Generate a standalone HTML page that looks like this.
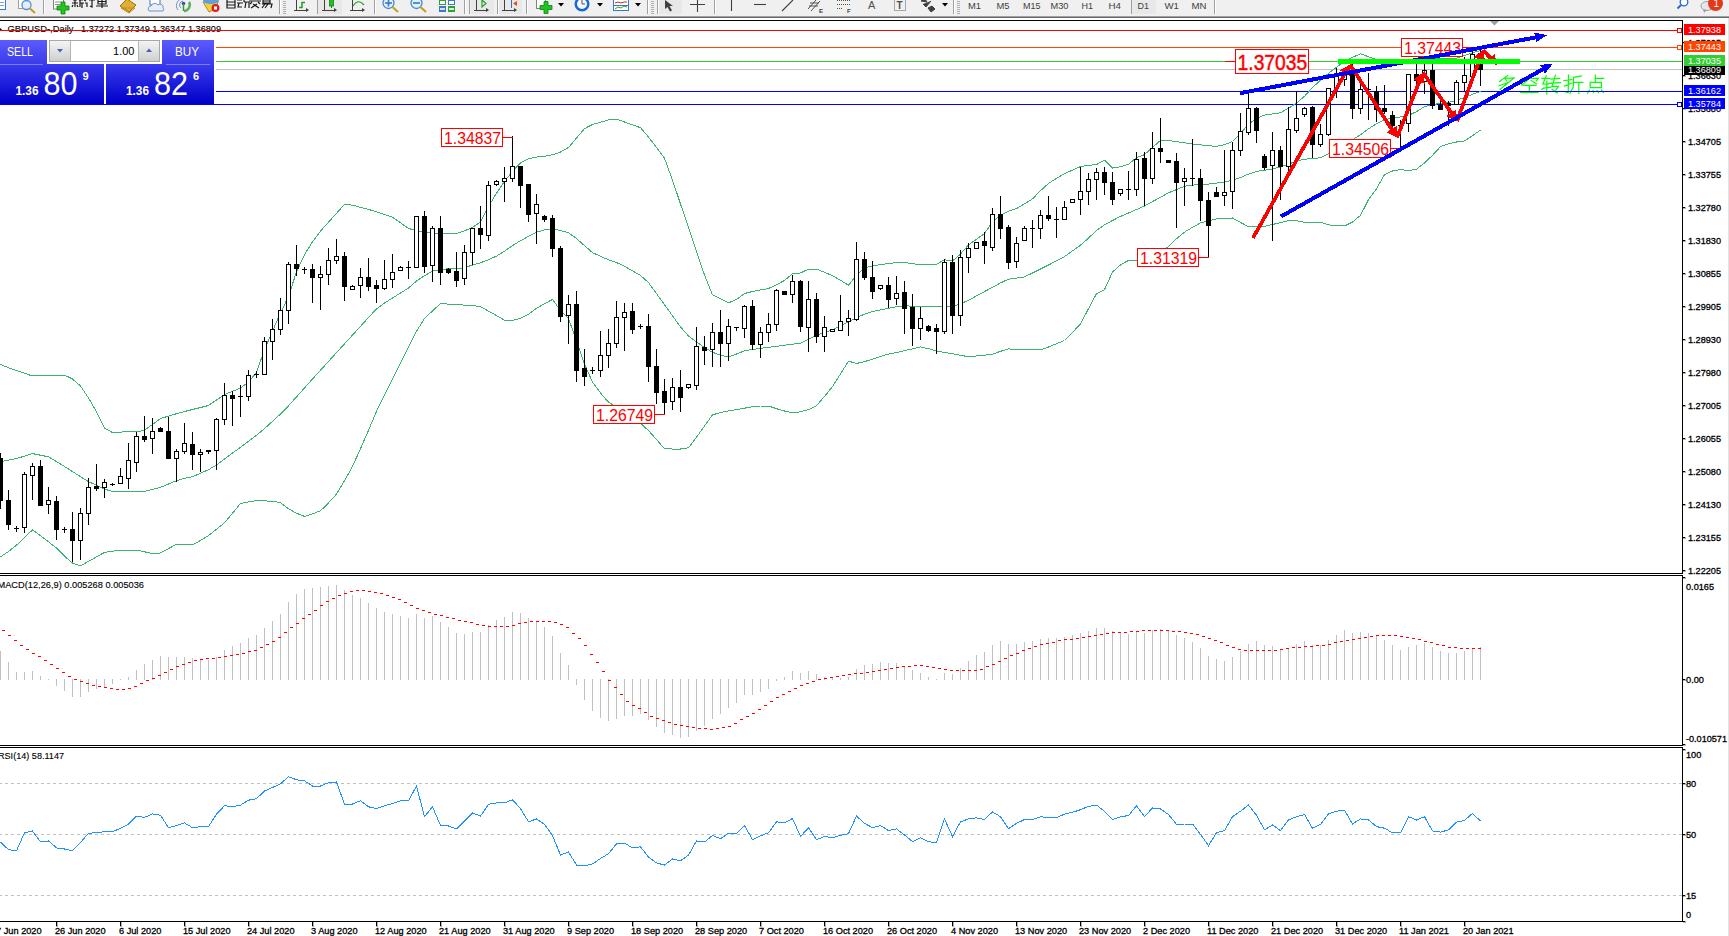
<!DOCTYPE html>
<html><head><meta charset="utf-8"><style>
html,body{margin:0;padding:0;background:#fff;width:1729px;height:936px;overflow:hidden}
svg{display:block}
</style></head><body>
<svg width="1729" height="936" viewBox="0 0 1729 936">
<rect width="1729" height="936" fill="#fff"/>
<g shape-rendering="crispEdges">
<rect x="0" y="0" width="1729" height="16" fill="#f0f0f0"/>
<rect x="0" y="16" width="1729" height="1" fill="#a0a0a0"/>
<rect x="0" y="17" width="1729" height="1" fill="#696969"/>
<rect x="1728" y="18" width="1" height="918" fill="#e3e3e3"/>
<rect x="0" y="20" width="1683" height="1" fill="#000"/>
<rect x="0" y="573" width="1683" height="1" fill="#000"/>
<rect x="1682" y="20" width="1" height="554" fill="#000"/>
<rect x="0" y="575" width="1683" height="1" fill="#000"/>
<rect x="0" y="745" width="1683" height="1" fill="#000"/>
<rect x="1682" y="575" width="1" height="171" fill="#000"/>
<rect x="0" y="747" width="1683" height="1" fill="#000"/>
<rect x="0" y="921" width="1683" height="1" fill="#000"/>
<rect x="1682" y="747" width="1" height="175" fill="#000"/>
<line x1="0" y1="783.5" x2="1682" y2="783.5" stroke="#c0c0c0" stroke-dasharray="3,3" stroke-dashoffset="1"/>
<line x1="0" y1="834.5" x2="1682" y2="834.5" stroke="#c0c0c0" stroke-dasharray="3,3" stroke-dashoffset="1"/>
<line x1="0" y1="895.5" x2="1682" y2="895.5" stroke="#c0c0c0" stroke-dasharray="3,3" stroke-dashoffset="1"/>
</g>
<g font-family='"Liberation Sans", sans-serif' font-size="9.2px" fill="#000" stroke="#000" stroke-width="0.12">
<text x="7.5" y="32" textLength="66" lengthAdjust="spacingAndGlyphs">GBPUSD-,Daily</text>
<text x="81" y="32" textLength="140" lengthAdjust="spacingAndGlyphs">1.37272 1.37349 1.36347 1.36809</text>
<text x="-2.5" y="588" textLength="146.5" lengthAdjust="spacingAndGlyphs">MACD(12,26,9) 0.005268 0.005036</text>
<text x="-2" y="759" textLength="66" lengthAdjust="spacingAndGlyphs">RSI(14) 58.1147</text>
<polygon points="0,28 2,29.5 0,31" fill="#000" stroke="none"/>
</g>
<path d="M1507.7,75.5 L1499.5,81.5 M1505,78.3 L1514,78 L1500,89.5 M1505.2,78.8 L1506.5,81 M1507,83 L1499,85.8 M1514.5,85.5 L1502,93.3 M1528.5,75.5 L1529,77.5 M1522,78.4 L1538.3,78.4 L1536.3,80.8 M1522,78.4 L1521.5,80.5 M1527.6,80.2 L1521.5,85 M1531,80.4 L1536.5,83.7 M1523.2,85.3 L1536,85.3 M1529.3,85.3 L1529.3,92.4 M1520.5,92.4 L1538,92.4 M1541.9,78.4 L1549.8,78.4 M1546.4,75.5 L1542.9,84 L1548,84.2 M1546.9,81 L1546.7,93.8 M1541.9,89.3 L1543.5,88.2 L1550.6,87.4 M1555.4,75.2 L1552.2,86.5 M1550.9,79.2 L1559.7,78.4 M1548.8,83.4 L1560.5,82.6 M1551.7,86.4 L1558.6,86.4 L1555.7,90.1 M1552,89.3 L1557.3,93 M1563.9,80.5 L1571.9,79.7 M1568.5,75.2 L1568.2,92.5 L1565.3,92 M1564.5,86.1 L1571.7,83.2 M1581.5,76 L1573.5,77.3 L1573.3,86.9 L1570,93.3 M1573.5,82.4 L1582.8,82.4 M1578.8,82.4 L1578.8,93.5 M1595.3,75.1 L1595.3,82.3 M1595.3,78.4 L1603.7,78.4 M1590.2,82.3 L1601.4,82.3 L1601.4,87.6 L1590.2,87.6 Z M1589.4,90 L1587.6,93.3 M1593,90.5 L1593.7,92.5 M1597.1,90.5 L1598.4,92.5 M1601.4,90 L1603.5,92.5" fill="none" stroke="#00ff00" stroke-width="1.2" stroke-linecap="square" stroke-linejoin="miter"/>
<g shape-rendering="crispEdges">
<rect x="0" y="30" width="1682" height="1" fill="#ff0000"/>
<rect x="1677.5" y="28.5" width="4" height="4" fill="#fff" stroke="#ff0000" stroke-width="1"/>
<rect x="0" y="47" width="1682" height="1" fill="#ff4500"/>
<rect x="1677.5" y="45.5" width="4" height="4" fill="#fff" stroke="#ff4500" stroke-width="1"/>
<rect x="0" y="61" width="1682" height="1" fill="#32cd32"/>
<rect x="0" y="69" width="1682" height="1" fill="#c0c0c0"/>
<rect x="0" y="91" width="1682" height="1" fill="#0000ff"/>
<rect x="0" y="104" width="1682" height="1" fill="#0000ff"/>
<rect x="1677.5" y="102.5" width="4" height="4" fill="#fff" stroke="#0000ff" stroke-width="1"/>
</g>
<polyline points="0.5,364.5 8.5,367.7 16.5,370.5 24.5,373.3 32.5,376.0 40.5,375.8 48.5,375.6 56.5,375.3 64.5,375.1 72.5,379.0 80.5,386.0 88.5,398.0 96.5,411.6 104.5,428.0 112.5,432.5 120.5,432.1 128.5,431.7 136.5,432.0 144.5,430.3 152.5,424.4 160.5,418.5 168.5,416.1 176.5,413.7 184.5,411.5 192.5,409.5 200.5,407.5 208.5,405.5 216.5,400.0 224.5,394.5 232.5,391.3 240.5,388.1 248.5,381.8 256.5,372.5 264.5,349.5 272.5,331.1 280.5,312.9 288.5,296.5 296.5,271.8 304.5,254.6 312.5,241.8 320.5,231.1 328.5,222.2 336.5,213.3 344.5,204.4 352.5,205.2 360.5,207.3 368.5,209.4 376.5,211.8 384.5,214.4 392.5,217.3 400.5,222.8 408.5,228.5 416.5,230.5 424.5,232.1 432.5,232.8 440.5,233.5 448.5,233.5 456.5,233.5 464.5,230.9 472.5,227.3 480.5,221.9 488.5,206.6 496.5,193.1 504.5,181.5 512.5,171.3 520.5,162.8 528.5,158.6 536.5,157.1 544.5,156.2 552.5,154.8 560.5,152.0 568.5,147.5 576.5,138.1 584.5,128.6 592.5,124.5 600.5,122.2 608.5,119.9 616.5,119.2 624.5,122.0 632.5,124.9 640.5,127.7 648.5,137.0 656.5,147.6 664.5,158.2 672.5,180.2 680.5,203.9 688.5,227.6 696.5,251.3 704.5,275.0 712.5,294.9 720.5,298.9 728.5,302.8 736.5,299.5 744.5,293.5 752.5,291.5 760.5,290.0 768.5,288.5 776.5,284.7 784.5,280.5 792.5,273.6 800.5,273.0 808.5,269.1 816.5,269.1 824.5,272.3 832.5,275.7 840.5,280.2 848.5,285.3 856.5,275.1 864.5,267.8 872.5,266.1 880.5,264.6 888.5,263.6 896.5,262.5 904.5,262.4 912.5,263.8 920.5,264.4 928.5,264.7 936.5,264.4 944.5,259.7 952.5,261.0 960.5,254.0 968.5,245.0 976.5,239.2 984.5,233.5 992.5,221.8 1000.5,215.2 1008.5,211.2 1016.5,208.6 1024.5,203.8 1032.5,198.9 1040.5,190.7 1048.5,183.4 1056.5,178.3 1064.5,173.6 1072.5,170.1 1080.5,166.6 1088.5,165.3 1096.5,164.6 1104.5,160.1 1112.5,168.0 1120.5,166.8 1128.5,164.2 1136.5,157.6 1144.5,154.6 1152.5,147.4 1160.5,140.4 1168.5,140.6 1176.5,141.6 1184.5,142.8 1192.5,144.0 1200.5,144.9 1208.5,145.7 1216.5,146.4 1224.5,144.8 1232.5,141.5 1240.5,133.5 1248.5,124.1 1256.5,118.3 1264.5,115.1 1272.5,113.9 1280.5,112.8 1288.5,108.2 1296.5,103.1 1304.5,96.3 1312.5,87.6 1320.5,80.2 1328.5,73.4 1336.5,67.2 1344.5,61.1 1352.5,57.3 1360.5,53.9 1368.5,56.7 1376.5,59.6 1384.5,61.8 1392.5,64.0 1400.5,64.5 1408.5,60.1 1416.5,58.6 1424.5,58.0 1432.5,58.3 1440.5,58.5 1448.5,58.9 1456.5,58.1 1464.5,55.5 1472.5,52.7 1480.5,50.5" fill="none" stroke="#3cb371" stroke-width="1" shape-rendering="crispEdges"/>
<polyline points="0.5,461.7 8.5,460.1 16.5,458.5 24.5,456.1 32.5,453.6 40.5,455.2 48.5,456.8 56.5,461.6 64.5,466.5 72.5,471.6 80.5,476.7 88.5,481.6 96.5,485.3 104.5,489.1 112.5,491.5 120.5,491.5 128.5,491.5 136.5,491.5 144.5,491.5 152.5,489.4 160.5,487.3 168.5,484.0 176.5,480.7 184.5,478.4 192.5,476.8 200.5,473.3 208.5,469.7 216.5,464.9 224.5,459.0 232.5,453.1 240.5,447.2 248.5,441.2 256.5,435.2 264.5,428.6 272.5,421.3 280.5,414.0 288.5,405.8 296.5,396.9 304.5,388.0 312.5,379.0 320.5,370.2 328.5,361.4 336.5,352.6 344.5,343.8 352.5,335.1 360.5,326.3 368.5,317.6 376.5,308.9 384.5,303.0 392.5,298.0 400.5,293.0 408.5,288.0 416.5,281.0 424.5,275.7 432.5,271.1 440.5,269.5 448.5,268.8 456.5,268.7 464.5,267.7 472.5,265.0 480.5,262.8 488.5,259.7 496.5,256.1 504.5,251.2 512.5,245.6 520.5,240.7 528.5,236.4 536.5,232.2 544.5,229.9 552.5,229.1 560.5,230.5 568.5,232.7 576.5,238.6 584.5,245.6 592.5,252.6 600.5,256.3 608.5,259.8 616.5,262.5 624.5,266.2 632.5,270.9 640.5,275.5 648.5,282.6 656.5,293.6 664.5,304.7 672.5,315.8 680.5,326.9 688.5,335.9 696.5,342.0 704.5,347.5 712.5,352.3 720.5,355.2 728.5,357.0 736.5,354.0 744.5,350.8 752.5,349.4 760.5,348.4 768.5,347.3 776.5,346.3 784.5,345.2 792.5,344.2 800.5,343.1 808.5,339.4 816.5,335.3 824.5,332.5 832.5,329.6 840.5,325.8 848.5,321.5 856.5,317.7 864.5,314.1 872.5,311.5 880.5,309.9 888.5,308.3 896.5,306.8 904.5,305.9 912.5,306.1 920.5,306.3 928.5,306.5 936.5,306.7 944.5,306.7 952.5,306.6 960.5,303.8 968.5,300.3 976.5,295.9 984.5,291.6 992.5,287.3 1000.5,282.9 1008.5,279.2 1016.5,278.1 1024.5,276.9 1032.5,273.0 1040.5,269.0 1048.5,265.0 1056.5,260.9 1064.5,256.6 1072.5,250.9 1080.5,245.2 1088.5,238.1 1096.5,230.5 1104.5,224.9 1112.5,220.5 1120.5,216.4 1128.5,213.0 1136.5,209.5 1144.5,206.0 1152.5,201.6 1160.5,197.2 1168.5,192.8 1176.5,189.6 1184.5,186.3 1192.5,185.1 1200.5,184.7 1208.5,184.1 1216.5,183.1 1224.5,182.1 1232.5,180.0 1240.5,177.5 1248.5,174.1 1256.5,171.4 1264.5,170.2 1272.5,168.9 1280.5,167.0 1288.5,164.1 1296.5,161.2 1304.5,159.1 1312.5,158.8 1320.5,157.7 1328.5,153.9 1336.5,148.6 1344.5,143.7 1352.5,139.8 1360.5,134.8 1368.5,128.8 1376.5,123.7 1384.5,119.6 1392.5,118.3 1400.5,116.9 1408.5,115.4 1416.5,111.6 1424.5,106.7 1432.5,104.6 1440.5,103.4 1448.5,102.5 1456.5,100.3 1464.5,97.3 1472.5,94.3 1480.5,91.3" fill="none" stroke="#3cb371" stroke-width="1" shape-rendering="crispEdges"/>
<polyline points="0.5,556.9 8.5,551.5 16.5,545.2 24.5,537.5 32.5,529.9 40.5,535.8 48.5,541.8 56.5,548.1 64.5,556.1 72.5,563.1 80.5,565.8 88.5,561.3 96.5,556.9 104.5,552.4 112.5,551.1 120.5,550.6 128.5,550.2 136.5,550.1 144.5,551.8 152.5,553.5 160.5,553.0 168.5,548.6 176.5,544.2 184.5,544.5 192.5,545.0 200.5,540.4 208.5,535.6 216.5,529.3 224.5,522.8 232.5,513.2 240.5,503.5 248.5,501.9 256.5,500.5 264.5,500.9 272.5,501.2 280.5,502.6 288.5,508.8 296.5,513.2 304.5,516.4 312.5,513.8 320.5,510.8 328.5,502.8 336.5,494.1 344.5,480.7 352.5,466.4 360.5,448.7 368.5,430.3 376.5,411.4 384.5,394.8 392.5,378.8 400.5,362.9 408.5,346.8 416.5,331.4 424.5,318.5 432.5,310.9 440.5,303.5 448.5,304.1 456.5,304.6 464.5,305.1 472.5,305.6 480.5,306.6 488.5,311.1 496.5,315.6 504.5,320.1 512.5,320.5 520.5,318.4 528.5,314.3 536.5,308.3 544.5,303.7 552.5,299.5 560.5,310.5 568.5,318.5 576.5,340.9 584.5,364.2 592.5,382.0 600.5,393.0 608.5,402.2 616.5,407.1 624.5,411.9 632.5,417.5 640.5,423.3 648.5,430.6 656.5,439.5 664.5,448.8 672.5,449.0 680.5,449.0 688.5,447.7 696.5,437.2 704.5,426.0 712.5,414.9 720.5,412.5 728.5,411.0 736.5,409.6 744.5,408.2 752.5,406.7 760.5,406.0 768.5,406.0 776.5,408.7 784.5,411.0 792.5,412.8 800.5,411.8 808.5,409.6 816.5,405.6 824.5,396.4 832.5,386.6 840.5,373.9 848.5,361.1 856.5,363.5 864.5,361.6 872.5,359.2 880.5,356.4 888.5,354.1 896.5,352.5 904.5,350.7 912.5,348.8 920.5,346.9 928.5,348.7 936.5,350.9 944.5,352.4 952.5,353.8 960.5,355.3 968.5,356.7 976.5,356.0 984.5,355.3 992.5,354.1 1000.5,351.3 1008.5,348.9 1016.5,349.5 1024.5,349.9 1032.5,349.9 1040.5,349.9 1048.5,347.0 1056.5,343.7 1064.5,340.5 1072.5,332.4 1080.5,323.9 1088.5,308.7 1096.5,293.7 1104.5,289.7 1112.5,272.0 1120.5,264.9 1128.5,260.4 1136.5,260.4 1144.5,257.8 1152.5,254.6 1160.5,250.9 1168.5,246.7 1176.5,238.8 1184.5,232.1 1192.5,227.3 1200.5,222.9 1208.5,220.9 1216.5,218.9 1224.5,218.2 1232.5,218.0 1240.5,222.4 1248.5,226.8 1256.5,226.8 1264.5,226.4 1272.5,224.5 1280.5,222.6 1288.5,220.7 1296.5,220.8 1304.5,222.2 1312.5,222.2 1320.5,222.2 1328.5,224.9 1336.5,225.4 1344.5,226.0 1352.5,222.0 1360.5,215.4 1368.5,199.5 1376.5,188.8 1384.5,174.6 1392.5,171.0 1400.5,169.5 1408.5,170.8 1416.5,169.2 1424.5,163.0 1432.5,155.3 1440.5,146.7 1448.5,143.7 1456.5,142.0 1464.5,141.0 1472.5,135.8 1480.5,130.0" fill="none" stroke="#3cb371" stroke-width="1" shape-rendering="crispEdges"/>
<g shape-rendering="crispEdges">
<rect x="0" y="453" width="1" height="56" fill="#000"/>
<rect x="-2" y="458" width="5" height="43" fill="#000"/>
<rect x="8" y="490" width="1" height="40" fill="#000"/>
<rect x="6" y="500" width="5" height="25" fill="#000"/>
<rect x="16" y="526" width="1" height="6" fill="#000"/>
<rect x="14" y="528" width="5" height="1" fill="#000"/>
<rect x="24" y="472" width="1" height="61" fill="#000"/>
<rect x="22" y="474" width="5" height="54" fill="#000"/>
<rect x="23" y="475" width="3" height="52" fill="#fff"/>
<rect x="32" y="463" width="1" height="37" fill="#000"/>
<rect x="30" y="466" width="5" height="10" fill="#000"/>
<rect x="31" y="467" width="3" height="8" fill="#fff"/>
<rect x="40" y="460" width="1" height="46" fill="#000"/>
<rect x="38" y="466" width="5" height="40" fill="#000"/>
<rect x="48" y="487" width="1" height="27" fill="#000"/>
<rect x="46" y="500" width="5" height="5" fill="#000"/>
<rect x="47" y="501" width="3" height="3" fill="#fff"/>
<rect x="56" y="496" width="1" height="44" fill="#000"/>
<rect x="54" y="501" width="5" height="29" fill="#000"/>
<rect x="64" y="527" width="1" height="6" fill="#000"/>
<rect x="62" y="529" width="5" height="1" fill="#000"/>
<rect x="72" y="512" width="1" height="50" fill="#000"/>
<rect x="70" y="529" width="5" height="12" fill="#000"/>
<rect x="80" y="508" width="1" height="52" fill="#000"/>
<rect x="78" y="513" width="5" height="28" fill="#000"/>
<rect x="79" y="514" width="3" height="26" fill="#fff"/>
<rect x="88" y="478" width="1" height="47" fill="#000"/>
<rect x="86" y="487" width="5" height="27" fill="#000"/>
<rect x="87" y="488" width="3" height="25" fill="#fff"/>
<rect x="96" y="464" width="1" height="27" fill="#000"/>
<rect x="94" y="486" width="5" height="3" fill="#000"/>
<rect x="104" y="479" width="1" height="19" fill="#000"/>
<rect x="102" y="482" width="5" height="6" fill="#000"/>
<rect x="103" y="483" width="3" height="4" fill="#fff"/>
<rect x="112" y="483" width="1" height="3" fill="#000"/>
<rect x="110" y="484" width="5" height="1" fill="#000"/>
<rect x="120" y="468" width="1" height="16" fill="#000"/>
<rect x="118" y="476" width="5" height="8" fill="#000"/>
<rect x="119" y="477" width="3" height="6" fill="#fff"/>
<rect x="128" y="443" width="1" height="46" fill="#000"/>
<rect x="126" y="460" width="5" height="19" fill="#000"/>
<rect x="127" y="461" width="3" height="17" fill="#fff"/>
<rect x="136" y="432" width="1" height="40" fill="#000"/>
<rect x="134" y="436" width="5" height="27" fill="#000"/>
<rect x="135" y="437" width="3" height="25" fill="#fff"/>
<rect x="144" y="416" width="1" height="26" fill="#000"/>
<rect x="142" y="436" width="5" height="4" fill="#000"/>
<rect x="152" y="418" width="1" height="36" fill="#000"/>
<rect x="150" y="431" width="5" height="8" fill="#000"/>
<rect x="151" y="432" width="3" height="6" fill="#fff"/>
<rect x="160" y="427" width="1" height="5" fill="#000"/>
<rect x="158" y="428" width="5" height="4" fill="#000"/>
<rect x="168" y="417" width="1" height="42" fill="#000"/>
<rect x="166" y="431" width="5" height="28" fill="#000"/>
<rect x="176" y="449" width="1" height="33" fill="#000"/>
<rect x="174" y="451" width="5" height="8" fill="#000"/>
<rect x="175" y="452" width="3" height="6" fill="#fff"/>
<rect x="184" y="423" width="1" height="31" fill="#000"/>
<rect x="182" y="443" width="5" height="9" fill="#000"/>
<rect x="183" y="444" width="3" height="7" fill="#fff"/>
<rect x="192" y="432" width="1" height="38" fill="#000"/>
<rect x="190" y="444" width="5" height="11" fill="#000"/>
<rect x="200" y="449" width="1" height="23" fill="#000"/>
<rect x="198" y="452" width="5" height="3" fill="#000"/>
<rect x="199" y="453" width="3" height="1" fill="#fff"/>
<rect x="208" y="450" width="1" height="4" fill="#000"/>
<rect x="206" y="450" width="5" height="2" fill="#000"/>
<rect x="216" y="418" width="1" height="52" fill="#000"/>
<rect x="214" y="419" width="5" height="32" fill="#000"/>
<rect x="215" y="420" width="3" height="30" fill="#fff"/>
<rect x="224" y="383" width="1" height="42" fill="#000"/>
<rect x="222" y="395" width="5" height="25" fill="#000"/>
<rect x="223" y="396" width="3" height="23" fill="#fff"/>
<rect x="232" y="391" width="1" height="35" fill="#000"/>
<rect x="230" y="395" width="5" height="4" fill="#000"/>
<rect x="240" y="385" width="1" height="32" fill="#000"/>
<rect x="238" y="396" width="5" height="1" fill="#000"/>
<rect x="248" y="370" width="1" height="31" fill="#000"/>
<rect x="246" y="375" width="5" height="22" fill="#000"/>
<rect x="247" y="376" width="3" height="20" fill="#fff"/>
<rect x="256" y="371" width="1" height="7" fill="#000"/>
<rect x="254" y="374" width="5" height="1" fill="#000"/>
<rect x="264" y="337" width="1" height="38" fill="#000"/>
<rect x="262" y="341" width="5" height="34" fill="#000"/>
<rect x="263" y="342" width="3" height="32" fill="#fff"/>
<rect x="272" y="319" width="1" height="41" fill="#000"/>
<rect x="270" y="329" width="5" height="13" fill="#000"/>
<rect x="271" y="330" width="3" height="11" fill="#fff"/>
<rect x="280" y="298" width="1" height="37" fill="#000"/>
<rect x="278" y="310" width="5" height="20" fill="#000"/>
<rect x="279" y="311" width="3" height="18" fill="#fff"/>
<rect x="288" y="262" width="1" height="62" fill="#000"/>
<rect x="286" y="264" width="5" height="47" fill="#000"/>
<rect x="287" y="265" width="3" height="45" fill="#fff"/>
<rect x="296" y="245" width="1" height="31" fill="#000"/>
<rect x="294" y="264" width="5" height="5" fill="#000"/>
<rect x="304" y="267" width="1" height="7" fill="#000"/>
<rect x="302" y="269" width="5" height="1" fill="#000"/>
<rect x="312" y="264" width="1" height="39" fill="#000"/>
<rect x="310" y="269" width="5" height="9" fill="#000"/>
<rect x="320" y="266" width="1" height="44" fill="#000"/>
<rect x="318" y="274" width="5" height="4" fill="#000"/>
<rect x="319" y="275" width="3" height="2" fill="#fff"/>
<rect x="328" y="248" width="1" height="37" fill="#000"/>
<rect x="326" y="260" width="5" height="15" fill="#000"/>
<rect x="327" y="261" width="3" height="13" fill="#fff"/>
<rect x="336" y="239" width="1" height="25" fill="#000"/>
<rect x="334" y="256" width="5" height="5" fill="#000"/>
<rect x="335" y="257" width="3" height="3" fill="#fff"/>
<rect x="344" y="252" width="1" height="49" fill="#000"/>
<rect x="342" y="256" width="5" height="31" fill="#000"/>
<rect x="352" y="285" width="1" height="5" fill="#000"/>
<rect x="350" y="286" width="5" height="4" fill="#000"/>
<rect x="351" y="287" width="3" height="2" fill="#fff"/>
<rect x="360" y="268" width="1" height="30" fill="#000"/>
<rect x="358" y="277" width="5" height="9" fill="#000"/>
<rect x="359" y="278" width="3" height="7" fill="#fff"/>
<rect x="368" y="258" width="1" height="33" fill="#000"/>
<rect x="366" y="277" width="5" height="10" fill="#000"/>
<rect x="376" y="280" width="1" height="23" fill="#000"/>
<rect x="374" y="285" width="5" height="4" fill="#000"/>
<rect x="384" y="260" width="1" height="30" fill="#000"/>
<rect x="382" y="279" width="5" height="10" fill="#000"/>
<rect x="383" y="280" width="3" height="8" fill="#fff"/>
<rect x="392" y="254" width="1" height="34" fill="#000"/>
<rect x="390" y="272" width="5" height="8" fill="#000"/>
<rect x="391" y="273" width="3" height="6" fill="#fff"/>
<rect x="400" y="266" width="1" height="5" fill="#000"/>
<rect x="398" y="267" width="5" height="4" fill="#000"/>
<rect x="399" y="268" width="3" height="2" fill="#fff"/>
<rect x="408" y="261" width="1" height="18" fill="#000"/>
<rect x="406" y="267" width="5" height="1" fill="#000"/>
<rect x="416" y="216" width="1" height="52" fill="#000"/>
<rect x="414" y="216" width="5" height="52" fill="#000"/>
<rect x="415" y="217" width="3" height="50" fill="#fff"/>
<rect x="424" y="211" width="1" height="62" fill="#000"/>
<rect x="422" y="216" width="5" height="51" fill="#000"/>
<rect x="432" y="226" width="1" height="56" fill="#000"/>
<rect x="430" y="228" width="5" height="38" fill="#000"/>
<rect x="431" y="229" width="3" height="36" fill="#fff"/>
<rect x="440" y="216" width="1" height="69" fill="#000"/>
<rect x="438" y="228" width="5" height="45" fill="#000"/>
<rect x="448" y="268" width="1" height="6" fill="#000"/>
<rect x="446" y="269" width="5" height="4" fill="#000"/>
<rect x="456" y="252" width="1" height="35" fill="#000"/>
<rect x="454" y="271" width="5" height="10" fill="#000"/>
<rect x="464" y="245" width="1" height="40" fill="#000"/>
<rect x="462" y="252" width="5" height="27" fill="#000"/>
<rect x="463" y="253" width="3" height="25" fill="#fff"/>
<rect x="472" y="228" width="1" height="37" fill="#000"/>
<rect x="470" y="228" width="5" height="25" fill="#000"/>
<rect x="471" y="229" width="3" height="23" fill="#fff"/>
<rect x="480" y="206" width="1" height="43" fill="#000"/>
<rect x="478" y="228" width="5" height="7" fill="#000"/>
<rect x="488" y="181" width="1" height="60" fill="#000"/>
<rect x="486" y="185" width="5" height="51" fill="#000"/>
<rect x="487" y="186" width="3" height="49" fill="#fff"/>
<rect x="496" y="180" width="1" height="6" fill="#000"/>
<rect x="494" y="181" width="5" height="4" fill="#000"/>
<rect x="495" y="182" width="3" height="2" fill="#fff"/>
<rect x="504" y="167" width="1" height="35" fill="#000"/>
<rect x="502" y="178" width="5" height="4" fill="#000"/>
<rect x="503" y="179" width="3" height="2" fill="#fff"/>
<rect x="512" y="136" width="1" height="46" fill="#000"/>
<rect x="510" y="166" width="5" height="13" fill="#000"/>
<rect x="511" y="167" width="3" height="11" fill="#fff"/>
<rect x="520" y="166" width="1" height="42" fill="#000"/>
<rect x="518" y="166" width="5" height="20" fill="#000"/>
<rect x="528" y="184" width="1" height="38" fill="#000"/>
<rect x="526" y="184" width="5" height="31" fill="#000"/>
<rect x="536" y="194" width="1" height="50" fill="#000"/>
<rect x="534" y="204" width="5" height="10" fill="#000"/>
<rect x="535" y="205" width="3" height="8" fill="#fff"/>
<rect x="544" y="215" width="1" height="7" fill="#000"/>
<rect x="542" y="216" width="5" height="4" fill="#000"/>
<rect x="552" y="215" width="1" height="42" fill="#000"/>
<rect x="550" y="218" width="5" height="31" fill="#000"/>
<rect x="560" y="246" width="1" height="76" fill="#000"/>
<rect x="558" y="248" width="5" height="69" fill="#000"/>
<rect x="568" y="295" width="1" height="49" fill="#000"/>
<rect x="566" y="304" width="5" height="12" fill="#000"/>
<rect x="567" y="305" width="3" height="10" fill="#fff"/>
<rect x="576" y="291" width="1" height="91" fill="#000"/>
<rect x="574" y="304" width="5" height="67" fill="#000"/>
<rect x="584" y="349" width="1" height="37" fill="#000"/>
<rect x="582" y="368" width="5" height="9" fill="#000"/>
<rect x="592" y="367" width="1" height="7" fill="#000"/>
<rect x="590" y="370" width="5" height="1" fill="#000"/>
<rect x="600" y="331" width="1" height="46" fill="#000"/>
<rect x="598" y="355" width="5" height="16" fill="#000"/>
<rect x="599" y="356" width="3" height="14" fill="#fff"/>
<rect x="608" y="329" width="1" height="39" fill="#000"/>
<rect x="606" y="343" width="5" height="13" fill="#000"/>
<rect x="607" y="344" width="3" height="11" fill="#fff"/>
<rect x="616" y="301" width="1" height="47" fill="#000"/>
<rect x="614" y="317" width="5" height="27" fill="#000"/>
<rect x="615" y="318" width="3" height="25" fill="#fff"/>
<rect x="624" y="303" width="1" height="48" fill="#000"/>
<rect x="622" y="312" width="5" height="6" fill="#000"/>
<rect x="623" y="313" width="3" height="4" fill="#fff"/>
<rect x="632" y="303" width="1" height="31" fill="#000"/>
<rect x="630" y="311" width="5" height="19" fill="#000"/>
<rect x="640" y="324" width="1" height="5" fill="#000"/>
<rect x="638" y="326" width="5" height="1" fill="#000"/>
<rect x="648" y="314" width="1" height="68" fill="#000"/>
<rect x="646" y="326" width="5" height="41" fill="#000"/>
<rect x="656" y="349" width="1" height="55" fill="#000"/>
<rect x="654" y="366" width="5" height="27" fill="#000"/>
<rect x="664" y="379" width="1" height="36" fill="#000"/>
<rect x="662" y="391" width="5" height="12" fill="#000"/>
<rect x="672" y="378" width="1" height="32" fill="#000"/>
<rect x="670" y="387" width="5" height="15" fill="#000"/>
<rect x="671" y="388" width="3" height="13" fill="#fff"/>
<rect x="680" y="370" width="1" height="42" fill="#000"/>
<rect x="678" y="387" width="5" height="11" fill="#000"/>
<rect x="688" y="384" width="1" height="5" fill="#000"/>
<rect x="686" y="384" width="5" height="4" fill="#000"/>
<rect x="687" y="385" width="3" height="2" fill="#fff"/>
<rect x="696" y="327" width="1" height="63" fill="#000"/>
<rect x="694" y="346" width="5" height="40" fill="#000"/>
<rect x="695" y="347" width="3" height="38" fill="#fff"/>
<rect x="704" y="336" width="1" height="29" fill="#000"/>
<rect x="702" y="347" width="5" height="4" fill="#000"/>
<rect x="712" y="323" width="1" height="44" fill="#000"/>
<rect x="710" y="332" width="5" height="18" fill="#000"/>
<rect x="711" y="333" width="3" height="16" fill="#fff"/>
<rect x="720" y="310" width="1" height="57" fill="#000"/>
<rect x="718" y="332" width="5" height="12" fill="#000"/>
<rect x="728" y="319" width="1" height="42" fill="#000"/>
<rect x="726" y="326" width="5" height="18" fill="#000"/>
<rect x="727" y="327" width="3" height="16" fill="#fff"/>
<rect x="736" y="327" width="1" height="4" fill="#000"/>
<rect x="734" y="327" width="5" height="1" fill="#000"/>
<rect x="744" y="305" width="1" height="33" fill="#000"/>
<rect x="742" y="306" width="5" height="23" fill="#000"/>
<rect x="743" y="307" width="3" height="21" fill="#fff"/>
<rect x="752" y="300" width="1" height="50" fill="#000"/>
<rect x="750" y="306" width="5" height="39" fill="#000"/>
<rect x="760" y="327" width="1" height="31" fill="#000"/>
<rect x="758" y="332" width="5" height="13" fill="#000"/>
<rect x="759" y="333" width="3" height="11" fill="#fff"/>
<rect x="768" y="313" width="1" height="29" fill="#000"/>
<rect x="766" y="324" width="5" height="9" fill="#000"/>
<rect x="767" y="325" width="3" height="7" fill="#fff"/>
<rect x="776" y="289" width="1" height="42" fill="#000"/>
<rect x="774" y="290" width="5" height="35" fill="#000"/>
<rect x="775" y="291" width="3" height="33" fill="#fff"/>
<rect x="784" y="291" width="1" height="4" fill="#000"/>
<rect x="782" y="291" width="5" height="4" fill="#000"/>
<rect x="792" y="275" width="1" height="28" fill="#000"/>
<rect x="790" y="281" width="5" height="14" fill="#000"/>
<rect x="791" y="282" width="3" height="12" fill="#fff"/>
<rect x="800" y="280" width="1" height="52" fill="#000"/>
<rect x="798" y="281" width="5" height="46" fill="#000"/>
<rect x="808" y="281" width="1" height="71" fill="#000"/>
<rect x="806" y="299" width="5" height="29" fill="#000"/>
<rect x="807" y="300" width="3" height="27" fill="#fff"/>
<rect x="816" y="293" width="1" height="50" fill="#000"/>
<rect x="814" y="299" width="5" height="38" fill="#000"/>
<rect x="824" y="316" width="1" height="36" fill="#000"/>
<rect x="822" y="327" width="5" height="10" fill="#000"/>
<rect x="823" y="328" width="3" height="8" fill="#fff"/>
<rect x="832" y="329" width="1" height="3" fill="#000"/>
<rect x="830" y="329" width="5" height="3" fill="#000"/>
<rect x="831" y="330" width="3" height="1" fill="#fff"/>
<rect x="840" y="295" width="1" height="36" fill="#000"/>
<rect x="838" y="321" width="5" height="10" fill="#000"/>
<rect x="839" y="322" width="3" height="8" fill="#fff"/>
<rect x="848" y="310" width="1" height="26" fill="#000"/>
<rect x="846" y="318" width="5" height="4" fill="#000"/>
<rect x="847" y="319" width="3" height="2" fill="#fff"/>
<rect x="856" y="242" width="1" height="79" fill="#000"/>
<rect x="854" y="259" width="5" height="61" fill="#000"/>
<rect x="855" y="260" width="3" height="59" fill="#fff"/>
<rect x="864" y="252" width="1" height="28" fill="#000"/>
<rect x="862" y="259" width="5" height="19" fill="#000"/>
<rect x="872" y="261" width="1" height="38" fill="#000"/>
<rect x="870" y="277" width="5" height="15" fill="#000"/>
<rect x="880" y="285" width="1" height="5" fill="#000"/>
<rect x="878" y="285" width="5" height="4" fill="#000"/>
<rect x="879" y="286" width="3" height="2" fill="#fff"/>
<rect x="888" y="277" width="1" height="31" fill="#000"/>
<rect x="886" y="285" width="5" height="15" fill="#000"/>
<rect x="896" y="276" width="1" height="29" fill="#000"/>
<rect x="894" y="293" width="5" height="6" fill="#000"/>
<rect x="895" y="294" width="3" height="4" fill="#fff"/>
<rect x="904" y="281" width="1" height="53" fill="#000"/>
<rect x="902" y="292" width="5" height="17" fill="#000"/>
<rect x="912" y="294" width="1" height="52" fill="#000"/>
<rect x="910" y="307" width="5" height="22" fill="#000"/>
<rect x="920" y="307" width="1" height="33" fill="#000"/>
<rect x="918" y="318" width="5" height="11" fill="#000"/>
<rect x="919" y="319" width="3" height="9" fill="#fff"/>
<rect x="928" y="325" width="1" height="7" fill="#000"/>
<rect x="926" y="326" width="5" height="5" fill="#000"/>
<rect x="936" y="324" width="1" height="30" fill="#000"/>
<rect x="934" y="328" width="5" height="4" fill="#000"/>
<rect x="944" y="259" width="1" height="75" fill="#000"/>
<rect x="942" y="262" width="5" height="70" fill="#000"/>
<rect x="943" y="263" width="3" height="68" fill="#fff"/>
<rect x="952" y="255" width="1" height="79" fill="#000"/>
<rect x="950" y="262" width="5" height="54" fill="#000"/>
<rect x="960" y="250" width="1" height="76" fill="#000"/>
<rect x="958" y="257" width="5" height="59" fill="#000"/>
<rect x="959" y="258" width="3" height="57" fill="#fff"/>
<rect x="968" y="243" width="1" height="30" fill="#000"/>
<rect x="966" y="248" width="5" height="10" fill="#000"/>
<rect x="967" y="249" width="3" height="8" fill="#fff"/>
<rect x="976" y="242" width="1" height="7" fill="#000"/>
<rect x="974" y="242" width="5" height="7" fill="#000"/>
<rect x="975" y="243" width="3" height="5" fill="#fff"/>
<rect x="984" y="232" width="1" height="32" fill="#000"/>
<rect x="982" y="241" width="5" height="5" fill="#000"/>
<rect x="992" y="208" width="1" height="43" fill="#000"/>
<rect x="990" y="214" width="5" height="34" fill="#000"/>
<rect x="991" y="215" width="3" height="32" fill="#fff"/>
<rect x="1000" y="196" width="1" height="43" fill="#000"/>
<rect x="998" y="214" width="5" height="15" fill="#000"/>
<rect x="1008" y="225" width="1" height="44" fill="#000"/>
<rect x="1006" y="227" width="5" height="36" fill="#000"/>
<rect x="1016" y="237" width="1" height="31" fill="#000"/>
<rect x="1014" y="243" width="5" height="19" fill="#000"/>
<rect x="1015" y="244" width="3" height="17" fill="#fff"/>
<rect x="1024" y="226" width="1" height="15" fill="#000"/>
<rect x="1022" y="228" width="5" height="13" fill="#000"/>
<rect x="1023" y="229" width="3" height="11" fill="#fff"/>
<rect x="1032" y="220" width="1" height="28" fill="#000"/>
<rect x="1030" y="228" width="5" height="1" fill="#000"/>
<rect x="1040" y="210" width="1" height="29" fill="#000"/>
<rect x="1038" y="215" width="5" height="14" fill="#000"/>
<rect x="1039" y="216" width="3" height="12" fill="#fff"/>
<rect x="1048" y="196" width="1" height="25" fill="#000"/>
<rect x="1046" y="215" width="5" height="4" fill="#000"/>
<rect x="1056" y="207" width="1" height="31" fill="#000"/>
<rect x="1054" y="219" width="5" height="1" fill="#000"/>
<rect x="1064" y="201" width="1" height="19" fill="#000"/>
<rect x="1062" y="207" width="5" height="13" fill="#000"/>
<rect x="1063" y="208" width="3" height="11" fill="#fff"/>
<rect x="1072" y="199" width="1" height="4" fill="#000"/>
<rect x="1070" y="199" width="5" height="4" fill="#000"/>
<rect x="1071" y="200" width="3" height="2" fill="#fff"/>
<rect x="1080" y="167" width="1" height="48" fill="#000"/>
<rect x="1078" y="191" width="5" height="9" fill="#000"/>
<rect x="1079" y="192" width="3" height="7" fill="#fff"/>
<rect x="1088" y="173" width="1" height="32" fill="#000"/>
<rect x="1086" y="179" width="5" height="13" fill="#000"/>
<rect x="1087" y="180" width="3" height="11" fill="#fff"/>
<rect x="1096" y="168" width="1" height="32" fill="#000"/>
<rect x="1094" y="172" width="5" height="8" fill="#000"/>
<rect x="1095" y="173" width="3" height="6" fill="#fff"/>
<rect x="1104" y="167" width="1" height="28" fill="#000"/>
<rect x="1102" y="172" width="5" height="11" fill="#000"/>
<rect x="1112" y="172" width="1" height="33" fill="#000"/>
<rect x="1110" y="182" width="5" height="18" fill="#000"/>
<rect x="1120" y="189" width="1" height="7" fill="#000"/>
<rect x="1118" y="189" width="5" height="5" fill="#000"/>
<rect x="1119" y="190" width="3" height="3" fill="#fff"/>
<rect x="1128" y="171" width="1" height="29" fill="#000"/>
<rect x="1126" y="189" width="5" height="1" fill="#000"/>
<rect x="1136" y="152" width="1" height="44" fill="#000"/>
<rect x="1134" y="159" width="5" height="31" fill="#000"/>
<rect x="1135" y="160" width="3" height="29" fill="#fff"/>
<rect x="1144" y="152" width="1" height="54" fill="#000"/>
<rect x="1142" y="158" width="5" height="21" fill="#000"/>
<rect x="1152" y="132" width="1" height="52" fill="#000"/>
<rect x="1150" y="148" width="5" height="31" fill="#000"/>
<rect x="1151" y="149" width="3" height="29" fill="#fff"/>
<rect x="1160" y="118" width="1" height="45" fill="#000"/>
<rect x="1158" y="148" width="5" height="4" fill="#000"/>
<rect x="1168" y="160" width="1" height="3" fill="#000"/>
<rect x="1166" y="160" width="5" height="3" fill="#000"/>
<rect x="1176" y="153" width="1" height="75" fill="#000"/>
<rect x="1174" y="161" width="5" height="22" fill="#000"/>
<rect x="1184" y="168" width="1" height="38" fill="#000"/>
<rect x="1182" y="178" width="5" height="4" fill="#000"/>
<rect x="1183" y="179" width="3" height="2" fill="#fff"/>
<rect x="1192" y="139" width="1" height="47" fill="#000"/>
<rect x="1190" y="178" width="5" height="1" fill="#000"/>
<rect x="1200" y="169" width="1" height="52" fill="#000"/>
<rect x="1198" y="178" width="5" height="23" fill="#000"/>
<rect x="1208" y="192" width="1" height="66" fill="#000"/>
<rect x="1206" y="200" width="5" height="26" fill="#000"/>
<rect x="1216" y="187" width="1" height="10" fill="#000"/>
<rect x="1214" y="192" width="5" height="5" fill="#000"/>
<rect x="1224" y="150" width="1" height="56" fill="#000"/>
<rect x="1222" y="192" width="5" height="4" fill="#000"/>
<rect x="1223" y="193" width="3" height="2" fill="#fff"/>
<rect x="1232" y="142" width="1" height="67" fill="#000"/>
<rect x="1230" y="150" width="5" height="42" fill="#000"/>
<rect x="1231" y="151" width="3" height="40" fill="#fff"/>
<rect x="1240" y="113" width="1" height="43" fill="#000"/>
<rect x="1238" y="131" width="5" height="20" fill="#000"/>
<rect x="1239" y="132" width="3" height="18" fill="#fff"/>
<rect x="1248" y="92" width="1" height="43" fill="#000"/>
<rect x="1246" y="108" width="5" height="25" fill="#000"/>
<rect x="1247" y="109" width="3" height="23" fill="#fff"/>
<rect x="1256" y="107" width="1" height="36" fill="#000"/>
<rect x="1254" y="108" width="5" height="23" fill="#000"/>
<rect x="1264" y="154" width="1" height="16" fill="#000"/>
<rect x="1262" y="156" width="5" height="12" fill="#000"/>
<rect x="1272" y="132" width="1" height="109" fill="#000"/>
<rect x="1270" y="150" width="5" height="16" fill="#000"/>
<rect x="1271" y="151" width="3" height="14" fill="#fff"/>
<rect x="1280" y="146" width="1" height="54" fill="#000"/>
<rect x="1278" y="150" width="5" height="17" fill="#000"/>
<rect x="1288" y="107" width="1" height="66" fill="#000"/>
<rect x="1286" y="129" width="5" height="38" fill="#000"/>
<rect x="1287" y="130" width="3" height="36" fill="#fff"/>
<rect x="1296" y="91" width="1" height="42" fill="#000"/>
<rect x="1294" y="118" width="5" height="13" fill="#000"/>
<rect x="1295" y="119" width="3" height="11" fill="#fff"/>
<rect x="1304" y="107" width="1" height="10" fill="#000"/>
<rect x="1302" y="108" width="5" height="7" fill="#000"/>
<rect x="1303" y="109" width="3" height="5" fill="#fff"/>
<rect x="1312" y="106" width="1" height="52" fill="#000"/>
<rect x="1310" y="107" width="5" height="38" fill="#000"/>
<rect x="1320" y="124" width="1" height="23" fill="#000"/>
<rect x="1318" y="134" width="5" height="11" fill="#000"/>
<rect x="1319" y="135" width="3" height="9" fill="#fff"/>
<rect x="1328" y="88" width="1" height="48" fill="#000"/>
<rect x="1326" y="88" width="5" height="47" fill="#000"/>
<rect x="1327" y="89" width="3" height="45" fill="#fff"/>
<rect x="1336" y="68" width="1" height="30" fill="#000"/>
<rect x="1334" y="76" width="5" height="13" fill="#000"/>
<rect x="1335" y="77" width="3" height="11" fill="#fff"/>
<rect x="1344" y="69" width="1" height="17" fill="#000"/>
<rect x="1342" y="73" width="5" height="7" fill="#000"/>
<rect x="1343" y="74" width="3" height="5" fill="#fff"/>
<rect x="1352" y="64" width="1" height="55" fill="#000"/>
<rect x="1350" y="70" width="5" height="39" fill="#000"/>
<rect x="1360" y="83" width="1" height="31" fill="#000"/>
<rect x="1358" y="89" width="5" height="20" fill="#000"/>
<rect x="1359" y="90" width="3" height="18" fill="#fff"/>
<rect x="1368" y="73" width="1" height="47" fill="#000"/>
<rect x="1366" y="89" width="5" height="1" fill="#000"/>
<rect x="1376" y="86" width="1" height="36" fill="#000"/>
<rect x="1374" y="91" width="5" height="19" fill="#000"/>
<rect x="1384" y="85" width="1" height="29" fill="#000"/>
<rect x="1382" y="108" width="5" height="4" fill="#000"/>
<rect x="1392" y="111" width="1" height="17" fill="#000"/>
<rect x="1390" y="115" width="5" height="11" fill="#000"/>
<rect x="1400" y="120" width="1" height="29" fill="#000"/>
<rect x="1398" y="125" width="5" height="1" fill="#000"/>
<rect x="1408" y="74" width="1" height="58" fill="#000"/>
<rect x="1406" y="74" width="5" height="50" fill="#000"/>
<rect x="1407" y="75" width="3" height="48" fill="#fff"/>
<rect x="1416" y="64" width="1" height="23" fill="#000"/>
<rect x="1414" y="74" width="5" height="7" fill="#000"/>
<rect x="1424" y="63" width="1" height="31" fill="#000"/>
<rect x="1422" y="70" width="5" height="12" fill="#000"/>
<rect x="1423" y="71" width="3" height="10" fill="#fff"/>
<rect x="1432" y="64" width="1" height="45" fill="#000"/>
<rect x="1430" y="70" width="5" height="36" fill="#000"/>
<rect x="1440" y="97" width="1" height="13" fill="#000"/>
<rect x="1438" y="105" width="5" height="5" fill="#000"/>
<rect x="1448" y="101" width="1" height="25" fill="#000"/>
<rect x="1446" y="103" width="5" height="3" fill="#000"/>
<rect x="1456" y="80" width="1" height="25" fill="#000"/>
<rect x="1454" y="82" width="5" height="23" fill="#000"/>
<rect x="1455" y="83" width="3" height="21" fill="#fff"/>
<rect x="1464" y="57" width="1" height="34" fill="#000"/>
<rect x="1462" y="75" width="5" height="8" fill="#000"/>
<rect x="1463" y="76" width="3" height="6" fill="#fff"/>
<rect x="1472" y="51" width="1" height="26" fill="#000"/>
<rect x="1470" y="54" width="5" height="23" fill="#000"/>
<rect x="1471" y="55" width="3" height="21" fill="#fff"/>
<rect x="1480" y="50" width="1" height="36" fill="#000"/>
<rect x="1478" y="53" width="5" height="17" fill="#000"/>
</g>
<g shape-rendering="crispEdges">
<rect x="0" y="651" width="1" height="29" fill="#c0c0c0"/>
<rect x="8" y="662" width="1" height="18" fill="#c0c0c0"/>
<rect x="16" y="672" width="1" height="8" fill="#c0c0c0"/>
<rect x="24" y="672" width="1" height="8" fill="#c0c0c0"/>
<rect x="32" y="671" width="1" height="9" fill="#c0c0c0"/>
<rect x="40" y="676" width="1" height="4" fill="#c0c0c0"/>
<rect x="48" y="679" width="1" height="1" fill="#c0c0c0"/>
<rect x="56" y="679" width="1" height="7" fill="#c0c0c0"/>
<rect x="64" y="679" width="1" height="12" fill="#c0c0c0"/>
<rect x="72" y="679" width="1" height="18" fill="#c0c0c0"/>
<rect x="80" y="679" width="1" height="18" fill="#c0c0c0"/>
<rect x="88" y="679" width="1" height="13" fill="#c0c0c0"/>
<rect x="96" y="679" width="1" height="10" fill="#c0c0c0"/>
<rect x="104" y="679" width="1" height="8" fill="#c0c0c0"/>
<rect x="112" y="679" width="1" height="5" fill="#c0c0c0"/>
<rect x="120" y="679" width="1" height="1" fill="#c0c0c0"/>
<rect x="128" y="677" width="1" height="3" fill="#c0c0c0"/>
<rect x="136" y="670" width="1" height="10" fill="#c0c0c0"/>
<rect x="144" y="664" width="1" height="16" fill="#c0c0c0"/>
<rect x="152" y="660" width="1" height="20" fill="#c0c0c0"/>
<rect x="160" y="656" width="1" height="24" fill="#c0c0c0"/>
<rect x="168" y="657" width="1" height="23" fill="#c0c0c0"/>
<rect x="176" y="657" width="1" height="23" fill="#c0c0c0"/>
<rect x="184" y="657" width="1" height="23" fill="#c0c0c0"/>
<rect x="192" y="658" width="1" height="22" fill="#c0c0c0"/>
<rect x="200" y="659" width="1" height="21" fill="#c0c0c0"/>
<rect x="208" y="660" width="1" height="20" fill="#c0c0c0"/>
<rect x="216" y="657" width="1" height="23" fill="#c0c0c0"/>
<rect x="224" y="650" width="1" height="30" fill="#c0c0c0"/>
<rect x="232" y="646" width="1" height="34" fill="#c0c0c0"/>
<rect x="240" y="643" width="1" height="37" fill="#c0c0c0"/>
<rect x="248" y="638" width="1" height="42" fill="#c0c0c0"/>
<rect x="256" y="635" width="1" height="45" fill="#c0c0c0"/>
<rect x="264" y="628" width="1" height="52" fill="#c0c0c0"/>
<rect x="272" y="621" width="1" height="59" fill="#c0c0c0"/>
<rect x="280" y="614" width="1" height="66" fill="#c0c0c0"/>
<rect x="288" y="602" width="1" height="78" fill="#c0c0c0"/>
<rect x="296" y="594" width="1" height="86" fill="#c0c0c0"/>
<rect x="304" y="589" width="1" height="91" fill="#c0c0c0"/>
<rect x="312" y="588" width="1" height="92" fill="#c0c0c0"/>
<rect x="320" y="587" width="1" height="93" fill="#c0c0c0"/>
<rect x="328" y="586" width="1" height="94" fill="#c0c0c0"/>
<rect x="336" y="585" width="1" height="95" fill="#c0c0c0"/>
<rect x="344" y="590" width="1" height="90" fill="#c0c0c0"/>
<rect x="352" y="595" width="1" height="85" fill="#c0c0c0"/>
<rect x="360" y="598" width="1" height="82" fill="#c0c0c0"/>
<rect x="368" y="603" width="1" height="77" fill="#c0c0c0"/>
<rect x="376" y="608" width="1" height="72" fill="#c0c0c0"/>
<rect x="384" y="612" width="1" height="68" fill="#c0c0c0"/>
<rect x="392" y="614" width="1" height="66" fill="#c0c0c0"/>
<rect x="400" y="616" width="1" height="64" fill="#c0c0c0"/>
<rect x="408" y="618" width="1" height="62" fill="#c0c0c0"/>
<rect x="416" y="614" width="1" height="66" fill="#c0c0c0"/>
<rect x="424" y="618" width="1" height="62" fill="#c0c0c0"/>
<rect x="432" y="616" width="1" height="64" fill="#c0c0c0"/>
<rect x="440" y="622" width="1" height="58" fill="#c0c0c0"/>
<rect x="448" y="627" width="1" height="53" fill="#c0c0c0"/>
<rect x="456" y="633" width="1" height="47" fill="#c0c0c0"/>
<rect x="464" y="634" width="1" height="46" fill="#c0c0c0"/>
<rect x="472" y="632" width="1" height="48" fill="#c0c0c0"/>
<rect x="480" y="632" width="1" height="48" fill="#c0c0c0"/>
<rect x="488" y="625" width="1" height="55" fill="#c0c0c0"/>
<rect x="496" y="620" width="1" height="60" fill="#c0c0c0"/>
<rect x="504" y="617" width="1" height="63" fill="#c0c0c0"/>
<rect x="512" y="612" width="1" height="68" fill="#c0c0c0"/>
<rect x="520" y="613" width="1" height="67" fill="#c0c0c0"/>
<rect x="528" y="618" width="1" height="62" fill="#c0c0c0"/>
<rect x="536" y="621" width="1" height="59" fill="#c0c0c0"/>
<rect x="544" y="627" width="1" height="53" fill="#c0c0c0"/>
<rect x="552" y="636" width="1" height="44" fill="#c0c0c0"/>
<rect x="560" y="653" width="1" height="27" fill="#c0c0c0"/>
<rect x="568" y="665" width="1" height="15" fill="#c0c0c0"/>
<rect x="576" y="679" width="1" height="6" fill="#c0c0c0"/>
<rect x="584" y="679" width="1" height="21" fill="#c0c0c0"/>
<rect x="592" y="679" width="1" height="32" fill="#c0c0c0"/>
<rect x="600" y="679" width="1" height="39" fill="#c0c0c0"/>
<rect x="608" y="679" width="1" height="42" fill="#c0c0c0"/>
<rect x="616" y="679" width="1" height="40" fill="#c0c0c0"/>
<rect x="624" y="679" width="1" height="37" fill="#c0c0c0"/>
<rect x="632" y="679" width="1" height="37" fill="#c0c0c0"/>
<rect x="640" y="679" width="1" height="35" fill="#c0c0c0"/>
<rect x="648" y="679" width="1" height="41" fill="#c0c0c0"/>
<rect x="656" y="679" width="1" height="48" fill="#c0c0c0"/>
<rect x="664" y="679" width="1" height="54" fill="#c0c0c0"/>
<rect x="672" y="679" width="1" height="56" fill="#c0c0c0"/>
<rect x="680" y="679" width="1" height="59" fill="#c0c0c0"/>
<rect x="688" y="679" width="1" height="58" fill="#c0c0c0"/>
<rect x="696" y="679" width="1" height="52" fill="#c0c0c0"/>
<rect x="704" y="679" width="1" height="47" fill="#c0c0c0"/>
<rect x="712" y="679" width="1" height="40" fill="#c0c0c0"/>
<rect x="720" y="679" width="1" height="35" fill="#c0c0c0"/>
<rect x="728" y="679" width="1" height="29" fill="#c0c0c0"/>
<rect x="736" y="679" width="1" height="24" fill="#c0c0c0"/>
<rect x="744" y="679" width="1" height="16" fill="#c0c0c0"/>
<rect x="752" y="679" width="1" height="16" fill="#c0c0c0"/>
<rect x="760" y="679" width="1" height="13" fill="#c0c0c0"/>
<rect x="768" y="679" width="1" height="10" fill="#c0c0c0"/>
<rect x="776" y="679" width="1" height="2" fill="#c0c0c0"/>
<rect x="784" y="677" width="1" height="3" fill="#c0c0c0"/>
<rect x="792" y="671" width="1" height="9" fill="#c0c0c0"/>
<rect x="800" y="673" width="1" height="7" fill="#c0c0c0"/>
<rect x="808" y="671" width="1" height="9" fill="#c0c0c0"/>
<rect x="816" y="674" width="1" height="6" fill="#c0c0c0"/>
<rect x="824" y="677" width="1" height="3" fill="#c0c0c0"/>
<rect x="832" y="678" width="1" height="2" fill="#c0c0c0"/>
<rect x="840" y="678" width="1" height="2" fill="#c0c0c0"/>
<rect x="848" y="677" width="1" height="3" fill="#c0c0c0"/>
<rect x="856" y="669" width="1" height="11" fill="#c0c0c0"/>
<rect x="864" y="665" width="1" height="15" fill="#c0c0c0"/>
<rect x="872" y="664" width="1" height="16" fill="#c0c0c0"/>
<rect x="880" y="662" width="1" height="18" fill="#c0c0c0"/>
<rect x="888" y="663" width="1" height="17" fill="#c0c0c0"/>
<rect x="896" y="663" width="1" height="17" fill="#c0c0c0"/>
<rect x="904" y="666" width="1" height="14" fill="#c0c0c0"/>
<rect x="912" y="670" width="1" height="10" fill="#c0c0c0"/>
<rect x="920" y="673" width="1" height="7" fill="#c0c0c0"/>
<rect x="928" y="677" width="1" height="3" fill="#c0c0c0"/>
<rect x="936" y="679" width="1" height="1" fill="#c0c0c0"/>
<rect x="944" y="673" width="1" height="7" fill="#c0c0c0"/>
<rect x="952" y="674" width="1" height="6" fill="#c0c0c0"/>
<rect x="960" y="668" width="1" height="12" fill="#c0c0c0"/>
<rect x="968" y="661" width="1" height="19" fill="#c0c0c0"/>
<rect x="976" y="655" width="1" height="25" fill="#c0c0c0"/>
<rect x="984" y="652" width="1" height="28" fill="#c0c0c0"/>
<rect x="992" y="645" width="1" height="35" fill="#c0c0c0"/>
<rect x="1000" y="641" width="1" height="39" fill="#c0c0c0"/>
<rect x="1008" y="644" width="1" height="36" fill="#c0c0c0"/>
<rect x="1016" y="644" width="1" height="36" fill="#c0c0c0"/>
<rect x="1024" y="642" width="1" height="38" fill="#c0c0c0"/>
<rect x="1032" y="641" width="1" height="39" fill="#c0c0c0"/>
<rect x="1040" y="639" width="1" height="41" fill="#c0c0c0"/>
<rect x="1048" y="638" width="1" height="42" fill="#c0c0c0"/>
<rect x="1056" y="638" width="1" height="42" fill="#c0c0c0"/>
<rect x="1064" y="637" width="1" height="43" fill="#c0c0c0"/>
<rect x="1072" y="635" width="1" height="45" fill="#c0c0c0"/>
<rect x="1080" y="633" width="1" height="47" fill="#c0c0c0"/>
<rect x="1088" y="631" width="1" height="49" fill="#c0c0c0"/>
<rect x="1096" y="628" width="1" height="52" fill="#c0c0c0"/>
<rect x="1104" y="628" width="1" height="52" fill="#c0c0c0"/>
<rect x="1112" y="631" width="1" height="49" fill="#c0c0c0"/>
<rect x="1120" y="632" width="1" height="48" fill="#c0c0c0"/>
<rect x="1128" y="634" width="1" height="46" fill="#c0c0c0"/>
<rect x="1136" y="632" width="1" height="48" fill="#c0c0c0"/>
<rect x="1144" y="633" width="1" height="47" fill="#c0c0c0"/>
<rect x="1152" y="630" width="1" height="50" fill="#c0c0c0"/>
<rect x="1160" y="629" width="1" height="51" fill="#c0c0c0"/>
<rect x="1168" y="630" width="1" height="50" fill="#c0c0c0"/>
<rect x="1176" y="635" width="1" height="45" fill="#c0c0c0"/>
<rect x="1184" y="638" width="1" height="42" fill="#c0c0c0"/>
<rect x="1192" y="642" width="1" height="38" fill="#c0c0c0"/>
<rect x="1200" y="648" width="1" height="32" fill="#c0c0c0"/>
<rect x="1208" y="656" width="1" height="24" fill="#c0c0c0"/>
<rect x="1216" y="659" width="1" height="21" fill="#c0c0c0"/>
<rect x="1224" y="661" width="1" height="19" fill="#c0c0c0"/>
<rect x="1232" y="657" width="1" height="23" fill="#c0c0c0"/>
<rect x="1240" y="651" width="1" height="29" fill="#c0c0c0"/>
<rect x="1248" y="644" width="1" height="36" fill="#c0c0c0"/>
<rect x="1256" y="641" width="1" height="39" fill="#c0c0c0"/>
<rect x="1264" y="645" width="1" height="35" fill="#c0c0c0"/>
<rect x="1272" y="646" width="1" height="34" fill="#c0c0c0"/>
<rect x="1280" y="650" width="1" height="30" fill="#c0c0c0"/>
<rect x="1288" y="648" width="1" height="32" fill="#c0c0c0"/>
<rect x="1296" y="644" width="1" height="36" fill="#c0c0c0"/>
<rect x="1304" y="641" width="1" height="39" fill="#c0c0c0"/>
<rect x="1312" y="645" width="1" height="35" fill="#c0c0c0"/>
<rect x="1320" y="645" width="1" height="35" fill="#c0c0c0"/>
<rect x="1328" y="640" width="1" height="40" fill="#c0c0c0"/>
<rect x="1336" y="635" width="1" height="45" fill="#c0c0c0"/>
<rect x="1344" y="630" width="1" height="50" fill="#c0c0c0"/>
<rect x="1352" y="633" width="1" height="47" fill="#c0c0c0"/>
<rect x="1360" y="632" width="1" height="48" fill="#c0c0c0"/>
<rect x="1368" y="633" width="1" height="47" fill="#c0c0c0"/>
<rect x="1376" y="635" width="1" height="45" fill="#c0c0c0"/>
<rect x="1384" y="640" width="1" height="40" fill="#c0c0c0"/>
<rect x="1392" y="645" width="1" height="35" fill="#c0c0c0"/>
<rect x="1400" y="650" width="1" height="30" fill="#c0c0c0"/>
<rect x="1408" y="647" width="1" height="33" fill="#c0c0c0"/>
<rect x="1416" y="645" width="1" height="35" fill="#c0c0c0"/>
<rect x="1424" y="643" width="1" height="37" fill="#c0c0c0"/>
<rect x="1432" y="647" width="1" height="33" fill="#c0c0c0"/>
<rect x="1440" y="651" width="1" height="29" fill="#c0c0c0"/>
<rect x="1448" y="653" width="1" height="27" fill="#c0c0c0"/>
<rect x="1456" y="653" width="1" height="27" fill="#c0c0c0"/>
<rect x="1464" y="651" width="1" height="29" fill="#c0c0c0"/>
<rect x="1472" y="648" width="1" height="32" fill="#c0c0c0"/>
<rect x="1480" y="647" width="1" height="33" fill="#c0c0c0"/>
</g>
<g shape-rendering="crispEdges" fill="#ff0000">
<rect x="2" y="630" width="3" height="1"/>
<rect x="8" y="635" width="3" height="1"/>
<rect x="14" y="640" width="3" height="1"/>
<rect x="20" y="645" width="3" height="1"/>
<rect x="26" y="649" width="3" height="1"/>
<rect x="32" y="653" width="3" height="1"/>
<rect x="38" y="656" width="3" height="1"/>
<rect x="44" y="660" width="3" height="1"/>
<rect x="50" y="664" width="3" height="1"/>
<rect x="56" y="668" width="3" height="1"/>
<rect x="62" y="672" width="3" height="1"/>
<rect x="68" y="676" width="3" height="1"/>
<rect x="74" y="679" width="3" height="1"/>
<rect x="80" y="681" width="3" height="1"/>
<rect x="86" y="683" width="3" height="1"/>
<rect x="92" y="685" width="3" height="1"/>
<rect x="98" y="686" width="3" height="1"/>
<rect x="104" y="687" width="3" height="1"/>
<rect x="110" y="688" width="3" height="1"/>
<rect x="116" y="689" width="3" height="1"/>
<rect x="122" y="689" width="3" height="1"/>
<rect x="128" y="688" width="3" height="1"/>
<rect x="134" y="686" width="3" height="1"/>
<rect x="140" y="683" width="3" height="1"/>
<rect x="146" y="680" width="3" height="1"/>
<rect x="152" y="678" width="3" height="1"/>
<rect x="158" y="675" width="3" height="1"/>
<rect x="164" y="672" width="3" height="1"/>
<rect x="170" y="669" width="3" height="1"/>
<rect x="176" y="666" width="3" height="1"/>
<rect x="182" y="664" width="3" height="1"/>
<rect x="188" y="662" width="3" height="1"/>
<rect x="194" y="660" width="3" height="1"/>
<rect x="200" y="659" width="3" height="1"/>
<rect x="206" y="658" width="3" height="1"/>
<rect x="212" y="658" width="3" height="1"/>
<rect x="218" y="657" width="3" height="1"/>
<rect x="224" y="656" width="3" height="1"/>
<rect x="230" y="655" width="3" height="1"/>
<rect x="236" y="654" width="3" height="1"/>
<rect x="242" y="653" width="3" height="1"/>
<rect x="248" y="651" width="3" height="1"/>
<rect x="254" y="650" width="3" height="1"/>
<rect x="260" y="647" width="3" height="1"/>
<rect x="266" y="644" width="3" height="1"/>
<rect x="272" y="641" width="3" height="1"/>
<rect x="278" y="637" width="3" height="1"/>
<rect x="284" y="632" width="3" height="1"/>
<rect x="290" y="627" width="3" height="1"/>
<rect x="296" y="623" width="3" height="1"/>
<rect x="302" y="618" width="3" height="1"/>
<rect x="308" y="614" width="3" height="1"/>
<rect x="314" y="610" width="3" height="1"/>
<rect x="320" y="605" width="3" height="1"/>
<rect x="326" y="601" width="3" height="1"/>
<rect x="332" y="598" width="3" height="1"/>
<rect x="338" y="595" width="3" height="1"/>
<rect x="344" y="593" width="3" height="1"/>
<rect x="350" y="591" width="3" height="1"/>
<rect x="356" y="590" width="3" height="1"/>
<rect x="362" y="590" width="3" height="1"/>
<rect x="368" y="591" width="3" height="1"/>
<rect x="374" y="592" width="3" height="1"/>
<rect x="380" y="593" width="3" height="1"/>
<rect x="386" y="595" width="3" height="1"/>
<rect x="392" y="597" width="3" height="1"/>
<rect x="398" y="599" width="3" height="1"/>
<rect x="404" y="602" width="3" height="1"/>
<rect x="410" y="605" width="3" height="1"/>
<rect x="416" y="608" width="3" height="1"/>
<rect x="422" y="610" width="3" height="1"/>
<rect x="428" y="612" width="3" height="1"/>
<rect x="434" y="614" width="3" height="1"/>
<rect x="440" y="615" width="3" height="1"/>
<rect x="446" y="617" width="3" height="1"/>
<rect x="452" y="618" width="3" height="1"/>
<rect x="458" y="620" width="3" height="1"/>
<rect x="464" y="621" width="3" height="1"/>
<rect x="470" y="622" width="3" height="1"/>
<rect x="476" y="624" width="3" height="1"/>
<rect x="482" y="625" width="3" height="1"/>
<rect x="488" y="626" width="3" height="1"/>
<rect x="494" y="626" width="3" height="1"/>
<rect x="500" y="626" width="3" height="1"/>
<rect x="506" y="626" width="3" height="1"/>
<rect x="512" y="625" width="3" height="1"/>
<rect x="518" y="623" width="3" height="1"/>
<rect x="524" y="622" width="3" height="1"/>
<rect x="530" y="621" width="3" height="1"/>
<rect x="536" y="621" width="3" height="1"/>
<rect x="542" y="621" width="3" height="1"/>
<rect x="548" y="621" width="3" height="1"/>
<rect x="554" y="622" width="3" height="1"/>
<rect x="560" y="624" width="3" height="1"/>
<rect x="566" y="627" width="3" height="1"/>
<rect x="572" y="633" width="3" height="1"/>
<rect x="578" y="638" width="3" height="1"/>
<rect x="584" y="645" width="3" height="1"/>
<rect x="590" y="654" width="3" height="1"/>
<rect x="596" y="662" width="3" height="1"/>
<rect x="602" y="671" width="3" height="1"/>
<rect x="608" y="680" width="3" height="1"/>
<rect x="614" y="687" width="3" height="1"/>
<rect x="620" y="694" width="3" height="1"/>
<rect x="626" y="701" width="3" height="1"/>
<rect x="632" y="705" width="3" height="1"/>
<rect x="638" y="708" width="3" height="1"/>
<rect x="644" y="712" width="3" height="1"/>
<rect x="650" y="716" width="3" height="1"/>
<rect x="656" y="718" width="3" height="1"/>
<rect x="662" y="720" width="3" height="1"/>
<rect x="668" y="722" width="3" height="1"/>
<rect x="674" y="724" width="3" height="1"/>
<rect x="680" y="725" width="3" height="1"/>
<rect x="686" y="726" width="3" height="1"/>
<rect x="692" y="727" width="3" height="1"/>
<rect x="698" y="728" width="3" height="1"/>
<rect x="704" y="728" width="3" height="1"/>
<rect x="710" y="729" width="3" height="1"/>
<rect x="716" y="728" width="3" height="1"/>
<rect x="722" y="727" width="3" height="1"/>
<rect x="728" y="726" width="3" height="1"/>
<rect x="734" y="723" width="3" height="1"/>
<rect x="740" y="719" width="3" height="1"/>
<rect x="746" y="716" width="3" height="1"/>
<rect x="752" y="713" width="3" height="1"/>
<rect x="758" y="709" width="3" height="1"/>
<rect x="764" y="705" width="3" height="1"/>
<rect x="770" y="701" width="3" height="1"/>
<rect x="776" y="697" width="3" height="1"/>
<rect x="782" y="694" width="3" height="1"/>
<rect x="788" y="691" width="3" height="1"/>
<rect x="794" y="688" width="3" height="1"/>
<rect x="800" y="685" width="3" height="1"/>
<rect x="806" y="683" width="3" height="1"/>
<rect x="812" y="681" width="3" height="1"/>
<rect x="818" y="679" width="3" height="1"/>
<rect x="824" y="678" width="3" height="1"/>
<rect x="830" y="677" width="3" height="1"/>
<rect x="836" y="676" width="3" height="1"/>
<rect x="842" y="675" width="3" height="1"/>
<rect x="848" y="674" width="3" height="1"/>
<rect x="854" y="673" width="3" height="1"/>
<rect x="860" y="673" width="3" height="1"/>
<rect x="866" y="672" width="3" height="1"/>
<rect x="872" y="671" width="3" height="1"/>
<rect x="878" y="670" width="3" height="1"/>
<rect x="884" y="669" width="3" height="1"/>
<rect x="890" y="668" width="3" height="1"/>
<rect x="896" y="667" width="3" height="1"/>
<rect x="902" y="666" width="3" height="1"/>
<rect x="908" y="666" width="3" height="1"/>
<rect x="914" y="665" width="3" height="1"/>
<rect x="920" y="665" width="3" height="1"/>
<rect x="926" y="666" width="3" height="1"/>
<rect x="932" y="667" width="3" height="1"/>
<rect x="938" y="668" width="3" height="1"/>
<rect x="944" y="669" width="3" height="1"/>
<rect x="950" y="670" width="3" height="1"/>
<rect x="956" y="670" width="3" height="1"/>
<rect x="962" y="670" width="3" height="1"/>
<rect x="968" y="670" width="3" height="1"/>
<rect x="974" y="670" width="3" height="1"/>
<rect x="980" y="669" width="3" height="1"/>
<rect x="986" y="666" width="3" height="1"/>
<rect x="992" y="664" width="3" height="1"/>
<rect x="998" y="661" width="3" height="1"/>
<rect x="1004" y="658" width="3" height="1"/>
<rect x="1010" y="655" width="3" height="1"/>
<rect x="1016" y="653" width="3" height="1"/>
<rect x="1022" y="650" width="3" height="1"/>
<rect x="1028" y="648" width="3" height="1"/>
<rect x="1034" y="646" width="3" height="1"/>
<rect x="1040" y="644" width="3" height="1"/>
<rect x="1046" y="643" width="3" height="1"/>
<rect x="1052" y="642" width="3" height="1"/>
<rect x="1058" y="640" width="3" height="1"/>
<rect x="1064" y="639" width="3" height="1"/>
<rect x="1070" y="639" width="3" height="1"/>
<rect x="1076" y="638" width="3" height="1"/>
<rect x="1082" y="637" width="3" height="1"/>
<rect x="1088" y="636" width="3" height="1"/>
<rect x="1094" y="635" width="3" height="1"/>
<rect x="1100" y="634" width="3" height="1"/>
<rect x="1106" y="633" width="3" height="1"/>
<rect x="1112" y="632" width="3" height="1"/>
<rect x="1118" y="632" width="3" height="1"/>
<rect x="1124" y="632" width="3" height="1"/>
<rect x="1130" y="631" width="3" height="1"/>
<rect x="1136" y="631" width="3" height="1"/>
<rect x="1142" y="630" width="3" height="1"/>
<rect x="1148" y="630" width="3" height="1"/>
<rect x="1154" y="630" width="3" height="1"/>
<rect x="1160" y="630" width="3" height="1"/>
<rect x="1166" y="630" width="3" height="1"/>
<rect x="1172" y="631" width="3" height="1"/>
<rect x="1178" y="631" width="3" height="1"/>
<rect x="1184" y="632" width="3" height="1"/>
<rect x="1190" y="633" width="3" height="1"/>
<rect x="1196" y="634" width="3" height="1"/>
<rect x="1202" y="636" width="3" height="1"/>
<rect x="1208" y="638" width="3" height="1"/>
<rect x="1214" y="640" width="3" height="1"/>
<rect x="1220" y="642" width="3" height="1"/>
<rect x="1226" y="645" width="3" height="1"/>
<rect x="1232" y="647" width="3" height="1"/>
<rect x="1238" y="649" width="3" height="1"/>
<rect x="1244" y="650" width="3" height="1"/>
<rect x="1250" y="650" width="3" height="1"/>
<rect x="1256" y="650" width="3" height="1"/>
<rect x="1262" y="650" width="3" height="1"/>
<rect x="1268" y="650" width="3" height="1"/>
<rect x="1274" y="650" width="3" height="1"/>
<rect x="1280" y="649" width="3" height="1"/>
<rect x="1286" y="648" width="3" height="1"/>
<rect x="1292" y="647" width="3" height="1"/>
<rect x="1298" y="647" width="3" height="1"/>
<rect x="1304" y="646" width="3" height="1"/>
<rect x="1310" y="646" width="3" height="1"/>
<rect x="1316" y="645" width="3" height="1"/>
<rect x="1322" y="645" width="3" height="1"/>
<rect x="1328" y="644" width="3" height="1"/>
<rect x="1334" y="642" width="3" height="1"/>
<rect x="1340" y="641" width="3" height="1"/>
<rect x="1346" y="640" width="3" height="1"/>
<rect x="1352" y="639" width="3" height="1"/>
<rect x="1358" y="638" width="3" height="1"/>
<rect x="1364" y="637" width="3" height="1"/>
<rect x="1370" y="636" width="3" height="1"/>
<rect x="1376" y="635" width="3" height="1"/>
<rect x="1382" y="635" width="3" height="1"/>
<rect x="1388" y="635" width="3" height="1"/>
<rect x="1394" y="635" width="3" height="1"/>
<rect x="1400" y="636" width="3" height="1"/>
<rect x="1406" y="637" width="3" height="1"/>
<rect x="1412" y="638" width="3" height="1"/>
<rect x="1418" y="639" width="3" height="1"/>
<rect x="1424" y="641" width="3" height="1"/>
<rect x="1430" y="642" width="3" height="1"/>
<rect x="1436" y="644" width="3" height="1"/>
<rect x="1442" y="645" width="3" height="1"/>
<rect x="1448" y="647" width="3" height="1"/>
<rect x="1454" y="647" width="3" height="1"/>
<rect x="1460" y="648" width="3" height="1"/>
<rect x="1466" y="648" width="3" height="1"/>
<rect x="1472" y="648" width="3" height="1"/>
<rect x="1478" y="648" width="3" height="1"/>
</g>
<polyline points="0.5,842.0 8.5,849.7 16.5,850.8 24.5,832.8 32.5,831.0 40.5,842.0 48.5,840.9 56.5,847.9 64.5,849.0 72.5,850.8 80.5,842.5 88.5,833.2 96.5,832.8 104.5,831.7 112.5,831.7 120.5,828.4 128.5,824.0 136.5,816.1 144.5,817.4 152.5,813.9 160.5,815.2 168.5,827.7 176.5,825.5 184.5,822.9 192.5,827.7 200.5,826.6 208.5,826.6 216.5,814.1 224.5,805.7 232.5,806.8 240.5,805.1 248.5,800.2 256.5,798.7 264.5,791.0 272.5,787.5 280.5,783.8 288.5,776.7 296.5,779.8 304.5,780.9 312.5,786.0 320.5,786.0 328.5,782.7 336.5,782.0 344.5,804.0 352.5,804.0 360.5,800.7 368.5,806.8 376.5,808.6 384.5,805.7 392.5,803.5 400.5,800.9 408.5,800.7 416.5,786.0 424.5,816.7 432.5,806.8 440.5,825.5 448.5,826.0 456.5,828.8 464.5,821.1 472.5,813.0 480.5,816.1 488.5,804.2 496.5,802.9 504.5,802.9 512.5,799.8 520.5,808.6 528.5,821.8 536.5,818.9 544.5,824.4 552.5,835.4 560.5,855.2 568.5,851.9 576.5,865.1 584.5,865.7 592.5,864.0 600.5,858.5 608.5,853.7 616.5,843.8 624.5,843.1 632.5,847.9 640.5,846.8 648.5,857.0 656.5,862.9 664.5,865.1 672.5,858.9 680.5,860.7 688.5,855.2 696.5,840.9 704.5,842.0 712.5,835.4 720.5,838.7 728.5,833.2 736.5,833.7 744.5,825.5 752.5,839.8 760.5,835.9 768.5,832.8 776.5,821.8 784.5,822.9 792.5,818.5 800.5,836.5 808.5,827.7 816.5,839.8 824.5,836.5 832.5,837.6 840.5,835.4 848.5,833.7 856.5,816.1 864.5,823.3 872.5,827.7 880.5,825.5 888.5,830.6 896.5,828.8 904.5,835.0 912.5,841.6 920.5,837.6 928.5,841.6 936.5,842.7 944.5,818.9 952.5,836.5 960.5,821.8 968.5,818.9 976.5,817.8 984.5,819.6 992.5,811.9 1000.5,816.7 1008.5,828.8 1016.5,823.3 1024.5,819.6 1032.5,819.6 1040.5,816.7 1048.5,817.8 1056.5,817.8 1064.5,814.1 1072.5,812.3 1080.5,809.7 1088.5,806.4 1096.5,805.1 1104.5,811.2 1112.5,819.6 1120.5,816.7 1128.5,815.6 1136.5,805.7 1144.5,816.7 1152.5,807.9 1160.5,809.0 1168.5,814.5 1176.5,824.4 1184.5,824.0 1192.5,824.0 1200.5,834.3 1208.5,845.7 1216.5,832.8 1224.5,830.6 1232.5,816.7 1240.5,811.2 1248.5,805.1 1256.5,815.2 1264.5,829.9 1272.5,824.9 1280.5,830.6 1288.5,820.0 1296.5,816.7 1304.5,814.5 1312.5,828.4 1320.5,824.4 1328.5,813.9 1336.5,811.2 1344.5,810.1 1352.5,824.0 1360.5,818.9 1368.5,820.0 1376.5,826.6 1384.5,828.2 1392.5,832.8 1400.5,832.8 1408.5,816.7 1416.5,820.0 1424.5,816.7 1432.5,831.0 1440.5,832.1 1448.5,829.9 1456.5,822.2 1464.5,820.5 1472.5,813.4 1480.5,821.1" fill="none" stroke="#1e90ff" stroke-width="1" shape-rendering="crispEdges"/>
<rect x="441.5" y="128.5" width="61" height="18" fill="#fff" stroke="#ff0000" stroke-width="1" shape-rendering="crispEdges"/>
<line x1="503" y1="137.5" x2="513" y2="137.5" stroke="#ff0000" stroke-width="1" shape-rendering="crispEdges"/>
<text x="444.0" y="144.0" font-family='"Liberation Sans", sans-serif' font-size="16.0px" fill="#ff0000" stroke="#ff0000" stroke-width="0.00" textLength="57.0" lengthAdjust="spacingAndGlyphs">1.34837</text>
<rect x="593.5" y="405.5" width="61" height="18" fill="#fff" stroke="#ff0000" stroke-width="1" shape-rendering="crispEdges"/>
<line x1="655" y1="414.5" x2="665" y2="414.5" stroke="#ff0000" stroke-width="1" shape-rendering="crispEdges"/>
<text x="596.0" y="421.0" font-family='"Liberation Sans", sans-serif' font-size="16.0px" fill="#ff0000" stroke="#ff0000" stroke-width="0.00" textLength="57.0" lengthAdjust="spacingAndGlyphs">1.26749</text>
<rect x="1137.5" y="248.5" width="61" height="18" fill="#fff" stroke="#ff0000" stroke-width="1" shape-rendering="crispEdges"/>
<line x1="1199" y1="257.5" x2="1209" y2="257.5" stroke="#ff0000" stroke-width="1" shape-rendering="crispEdges"/>
<text x="1140.0" y="264.0" font-family='"Liberation Sans", sans-serif' font-size="16.0px" fill="#ff0000" stroke="#ff0000" stroke-width="0.00" textLength="57.0" lengthAdjust="spacingAndGlyphs">1.31319</text>
<rect x="1329.5" y="139.5" width="61" height="18" fill="#fff" stroke="#ff0000" stroke-width="1" shape-rendering="crispEdges"/>
<line x1="1391" y1="148.5" x2="1401" y2="148.5" stroke="#ff0000" stroke-width="1" shape-rendering="crispEdges"/>
<text x="1332.0" y="155.0" font-family='"Liberation Sans", sans-serif' font-size="16.0px" fill="#ff0000" stroke="#ff0000" stroke-width="0.00" textLength="57.0" lengthAdjust="spacingAndGlyphs">1.34506</text>
<rect x="1401.5" y="38.5" width="61" height="18" fill="#fff" stroke="#ff0000" stroke-width="1" shape-rendering="crispEdges"/>
<line x1="1463" y1="47.5" x2="1473" y2="47.5" stroke="#ff0000" stroke-width="1" shape-rendering="crispEdges"/>
<text x="1404.0" y="54.0" font-family='"Liberation Sans", sans-serif' font-size="16.0px" fill="#ff0000" stroke="#ff0000" stroke-width="0.00" textLength="57.0" lengthAdjust="spacingAndGlyphs">1.37443</text>
<rect x="1235.5" y="49.5" width="73" height="24" fill="#fff" stroke="#ff0000" stroke-width="1" shape-rendering="crispEdges"/>
<line x1="1225" y1="61.5" x2="1235" y2="61.5" stroke="#ff0000" stroke-width="1" shape-rendering="crispEdges"/>
<text x="1237.6" y="70.0" font-family='"Liberation Sans", sans-serif' font-size="22.5px" fill="#ff0000" stroke="#ff0000" stroke-width="0.50" textLength="69.5" lengthAdjust="spacingAndGlyphs">1.37035</text>
<line x1="1253.0" y1="238.0" x2="1346.1" y2="71.5" stroke="#ff0000" stroke-width="3.7" shape-rendering="crispEdges"/><polygon points="1350.0,64.5 1350.4,76.2 1339.9,70.3" fill="#ff0000" shape-rendering="crispEdges"/>
<line x1="1350.0" y1="64.5" x2="1392.7" y2="130.8" stroke="#ff0000" stroke-width="3.7" shape-rendering="crispEdges"/><polygon points="1397.0,137.5 1386.5,132.3 1396.6,125.8" fill="#ff0000" shape-rendering="crispEdges"/>
<line x1="1397.0" y1="137.5" x2="1420.0" y2="79.9" stroke="#ff0000" stroke-width="3.7" shape-rendering="crispEdges"/><polygon points="1423.0,72.5 1424.9,84.0 1413.7,79.6" fill="#ff0000" shape-rendering="crispEdges"/>
<line x1="1423.0" y1="72.5" x2="1452.4" y2="114.4" stroke="#ff0000" stroke-width="3.7" shape-rendering="crispEdges"/><polygon points="1457.0,121.0 1446.3,116.3 1456.2,109.4" fill="#ff0000" shape-rendering="crispEdges"/>
<line x1="1457.0" y1="121.0" x2="1480.2" y2="57.5" stroke="#ff0000" stroke-width="3.7" shape-rendering="crispEdges"/><polygon points="1483.0,50.0 1485.2,61.5 1473.9,57.3" fill="#ff0000" shape-rendering="crispEdges"/>
<line x1="1483.0" y1="50.0" x2="1491.5" y2="59.2" stroke="#ff0000" stroke-width="3.7" shape-rendering="crispEdges"/><polygon points="1497.0,65.0 1485.8,61.8 1494.6,53.6" fill="#ff0000" shape-rendering="crispEdges"/>
<line x1="1240.0" y1="93.2" x2="1537.2" y2="37.1" stroke="#0000ff" stroke-width="4.0" shape-rendering="crispEdges"/><polygon points="1547.0,35.2 1536.1,42.3 1534.3,32.5" fill="#0000ff" shape-rendering="crispEdges"/>
<line x1="1281.0" y1="216.5" x2="1544.3" y2="68.4" stroke="#0000ff" stroke-width="4.0" shape-rendering="crispEdges"/><polygon points="1553.0,63.5 1545.0,73.7 1540.1,65.0" fill="#0000ff" shape-rendering="crispEdges"/>
<rect x="1338" y="59" width="182" height="5" fill="#00ff00"/>
<polygon points="1490,21 1499,21 1494.5,25.5" fill="#a0a0a0"/>
<g font-family='"Liberation Sans", sans-serif' font-size="9.2px" fill="#000" stroke="#000" stroke-width="0.3">
<rect x="1683" y="42" width="2" height="1" fill="#000" shape-rendering="crispEdges"/>
<text x="1688" y="45.5" textLength="33" lengthAdjust="spacingAndGlyphs">1.37605</text>
<rect x="1683" y="75" width="2" height="1" fill="#000" shape-rendering="crispEdges"/>
<text x="1688" y="78.5" textLength="33" lengthAdjust="spacingAndGlyphs">1.36630</text>
<rect x="1683" y="108" width="2" height="1" fill="#000" shape-rendering="crispEdges"/>
<text x="1688" y="111.5" textLength="33" lengthAdjust="spacingAndGlyphs">1.35680</text>
<rect x="1683" y="141" width="2" height="1" fill="#000" shape-rendering="crispEdges"/>
<text x="1688" y="144.5" textLength="33" lengthAdjust="spacingAndGlyphs">1.34705</text>
<rect x="1683" y="174" width="2" height="1" fill="#000" shape-rendering="crispEdges"/>
<text x="1688" y="177.5" textLength="33" lengthAdjust="spacingAndGlyphs">1.33755</text>
<rect x="1683" y="207" width="2" height="1" fill="#000" shape-rendering="crispEdges"/>
<text x="1688" y="210.5" textLength="33" lengthAdjust="spacingAndGlyphs">1.32780</text>
<rect x="1683" y="240" width="2" height="1" fill="#000" shape-rendering="crispEdges"/>
<text x="1688" y="243.5" textLength="33" lengthAdjust="spacingAndGlyphs">1.31830</text>
<rect x="1683" y="273" width="2" height="1" fill="#000" shape-rendering="crispEdges"/>
<text x="1688" y="276.5" textLength="33" lengthAdjust="spacingAndGlyphs">1.30855</text>
<rect x="1683" y="306" width="2" height="1" fill="#000" shape-rendering="crispEdges"/>
<text x="1688" y="309.5" textLength="33" lengthAdjust="spacingAndGlyphs">1.29905</text>
<rect x="1683" y="339" width="2" height="1" fill="#000" shape-rendering="crispEdges"/>
<text x="1688" y="342.5" textLength="33" lengthAdjust="spacingAndGlyphs">1.28930</text>
<rect x="1683" y="372" width="2" height="1" fill="#000" shape-rendering="crispEdges"/>
<text x="1688" y="375.5" textLength="33" lengthAdjust="spacingAndGlyphs">1.27980</text>
<rect x="1683" y="405" width="2" height="1" fill="#000" shape-rendering="crispEdges"/>
<text x="1688" y="408.5" textLength="33" lengthAdjust="spacingAndGlyphs">1.27005</text>
<rect x="1683" y="438" width="2" height="1" fill="#000" shape-rendering="crispEdges"/>
<text x="1688" y="441.5" textLength="33" lengthAdjust="spacingAndGlyphs">1.26055</text>
<rect x="1683" y="471" width="2" height="1" fill="#000" shape-rendering="crispEdges"/>
<text x="1688" y="474.5" textLength="33" lengthAdjust="spacingAndGlyphs">1.25080</text>
<rect x="1683" y="504" width="2" height="1" fill="#000" shape-rendering="crispEdges"/>
<text x="1688" y="507.5" textLength="33" lengthAdjust="spacingAndGlyphs">1.24130</text>
<rect x="1683" y="537" width="2" height="1" fill="#000" shape-rendering="crispEdges"/>
<text x="1688" y="540.5" textLength="33" lengthAdjust="spacingAndGlyphs">1.23155</text>
<rect x="1683" y="570" width="2" height="1" fill="#000" shape-rendering="crispEdges"/>
<text x="1688" y="573.5" textLength="33" lengthAdjust="spacingAndGlyphs">1.22205</text>
<rect x="1683" y="577" width="2" height="1" fill="#000" shape-rendering="crispEdges"/>
<rect x="1683" y="679" width="2" height="1" fill="#000" shape-rendering="crispEdges"/>
<rect x="1683" y="744" width="2" height="1" fill="#000" shape-rendering="crispEdges"/>
<text x="1686" y="590" textLength="28" lengthAdjust="spacingAndGlyphs">0.0165</text>
<text x="1686" y="683" textLength="18" lengthAdjust="spacingAndGlyphs">0.00</text>
<text x="1686" y="742" textLength="41" lengthAdjust="spacingAndGlyphs">-0.010571</text>
<rect x="1683" y="749" width="2" height="1" fill="#000" shape-rendering="crispEdges"/>
<rect x="1683" y="783" width="2" height="1" fill="#000" shape-rendering="crispEdges"/>
<rect x="1683" y="834" width="2" height="1" fill="#000" shape-rendering="crispEdges"/>
<rect x="1683" y="895" width="2" height="1" fill="#000" shape-rendering="crispEdges"/>
<rect x="1683" y="921" width="2" height="1" fill="#000" shape-rendering="crispEdges"/>
<text x="1686" y="758">100</text>
<text x="1686" y="787">80</text>
<text x="1686" y="838">50</text>
<text x="1686" y="899">15</text>
<text x="1686" y="918">0</text>
<text x="-9" y="934">17 Jun 2020</text>
<rect x="56" y="921" width="1" height="5" fill="#000" shape-rendering="crispEdges"/>
<text x="55" y="934">26 Jun 2020</text>
<rect x="120" y="921" width="1" height="5" fill="#000" shape-rendering="crispEdges"/>
<text x="119" y="934">6 Jul 2020</text>
<rect x="184" y="921" width="1" height="5" fill="#000" shape-rendering="crispEdges"/>
<text x="183" y="934">15 Jul 2020</text>
<rect x="248" y="921" width="1" height="5" fill="#000" shape-rendering="crispEdges"/>
<text x="247" y="934">24 Jul 2020</text>
<rect x="312" y="921" width="1" height="5" fill="#000" shape-rendering="crispEdges"/>
<text x="311" y="934">3 Aug 2020</text>
<rect x="376" y="921" width="1" height="5" fill="#000" shape-rendering="crispEdges"/>
<text x="375" y="934">12 Aug 2020</text>
<rect x="440" y="921" width="1" height="5" fill="#000" shape-rendering="crispEdges"/>
<text x="439" y="934">21 Aug 2020</text>
<rect x="504" y="921" width="1" height="5" fill="#000" shape-rendering="crispEdges"/>
<text x="503" y="934">31 Aug 2020</text>
<rect x="568" y="921" width="1" height="5" fill="#000" shape-rendering="crispEdges"/>
<text x="567" y="934">9 Sep 2020</text>
<rect x="632" y="921" width="1" height="5" fill="#000" shape-rendering="crispEdges"/>
<text x="631" y="934">18 Sep 2020</text>
<rect x="696" y="921" width="1" height="5" fill="#000" shape-rendering="crispEdges"/>
<text x="695" y="934">28 Sep 2020</text>
<rect x="760" y="921" width="1" height="5" fill="#000" shape-rendering="crispEdges"/>
<text x="759" y="934">7 Oct 2020</text>
<rect x="824" y="921" width="1" height="5" fill="#000" shape-rendering="crispEdges"/>
<text x="823" y="934">16 Oct 2020</text>
<rect x="888" y="921" width="1" height="5" fill="#000" shape-rendering="crispEdges"/>
<text x="887" y="934">26 Oct 2020</text>
<rect x="952" y="921" width="1" height="5" fill="#000" shape-rendering="crispEdges"/>
<text x="951" y="934">4 Nov 2020</text>
<rect x="1016" y="921" width="1" height="5" fill="#000" shape-rendering="crispEdges"/>
<text x="1015" y="934">13 Nov 2020</text>
<rect x="1080" y="921" width="1" height="5" fill="#000" shape-rendering="crispEdges"/>
<text x="1079" y="934">23 Nov 2020</text>
<rect x="1144" y="921" width="1" height="5" fill="#000" shape-rendering="crispEdges"/>
<text x="1143" y="934">2 Dec 2020</text>
<rect x="1208" y="921" width="1" height="5" fill="#000" shape-rendering="crispEdges"/>
<text x="1207" y="934">11 Dec 2020</text>
<rect x="1272" y="921" width="1" height="5" fill="#000" shape-rendering="crispEdges"/>
<text x="1271" y="934">21 Dec 2020</text>
<rect x="1336" y="921" width="1" height="5" fill="#000" shape-rendering="crispEdges"/>
<text x="1335" y="934">31 Dec 2020</text>
<rect x="1400" y="921" width="1" height="5" fill="#000" shape-rendering="crispEdges"/>
<text x="1399" y="934">11 Jan 2021</text>
<rect x="1464" y="921" width="1" height="5" fill="#000" shape-rendering="crispEdges"/>
<text x="1463" y="934">20 Jan 2021</text>
</g>
<rect x="1684" y="24" width="41" height="11" fill="#ff0000" shape-rendering="crispEdges"/>
<text x="1688" y="33" font-family='"Liberation Sans", sans-serif' font-size="9.5px" fill="#fff" textLength="33" lengthAdjust="spacingAndGlyphs">1.37938</text>
<rect x="1684" y="41" width="41" height="11" fill="#ff4500" shape-rendering="crispEdges"/>
<text x="1688" y="50" font-family='"Liberation Sans", sans-serif' font-size="9.5px" fill="#fff" textLength="33" lengthAdjust="spacingAndGlyphs">1.37443</text>
<rect x="1684" y="64" width="41" height="11" fill="#000000" shape-rendering="crispEdges"/>
<text x="1688" y="73" font-family='"Liberation Sans", sans-serif' font-size="9.5px" fill="#fff" textLength="33" lengthAdjust="spacingAndGlyphs">1.36809</text>
<rect x="1684" y="55" width="41" height="11" fill="#32cd32" shape-rendering="crispEdges"/>
<text x="1688" y="64" font-family='"Liberation Sans", sans-serif' font-size="9.5px" fill="#fff" textLength="33" lengthAdjust="spacingAndGlyphs">1.37035</text>
<rect x="1684" y="85" width="41" height="11" fill="#0000ff" shape-rendering="crispEdges"/>
<text x="1688" y="94" font-family='"Liberation Sans", sans-serif' font-size="9.5px" fill="#fff" textLength="33" lengthAdjust="spacingAndGlyphs">1.36162</text>
<rect x="1684" y="98" width="41" height="11" fill="#0000ff" shape-rendering="crispEdges"/>
<text x="1688" y="107" font-family='"Liberation Sans", sans-serif' font-size="9.5px" fill="#fff" textLength="33" lengthAdjust="spacingAndGlyphs">1.35784</text>
<defs>
<linearGradient id="gTop" x1="0" y1="0" x2="0" y2="1"><stop offset="0" stop-color="#5b5bff"/><stop offset="1" stop-color="#3a3ae8"/></linearGradient>
<linearGradient id="gBot" x1="0" y1="0" x2="0" y2="1"><stop offset="0" stop-color="#3a3aee"/><stop offset="1" stop-color="#0000c8"/></linearGradient>
<linearGradient id="gBtn" x1="0" y1="0" x2="0" y2="1"><stop offset="0" stop-color="#f4f4f4"/><stop offset="0.5" stop-color="#e2e2e2"/><stop offset="1" stop-color="#cfcfcf"/></linearGradient>
</defs>
<g shape-rendering="crispEdges">
<rect x="0" y="40" width="216" height="64" fill="#fff"/>
<rect x="0" y="40" width="47" height="25" fill="url(#gTop)"/>
<rect x="0" y="64" width="104" height="40" fill="url(#gBot)"/>
<rect x="0" y="64" width="43" height="1" fill="#7a7aff"/>
<rect x="162" y="40" width="52" height="25" fill="url(#gTop)"/>
<rect x="106" y="64" width="108" height="40" fill="url(#gBot)"/>
<rect x="166" y="64" width="44" height="1" fill="#7a7aff"/>
<rect x="47" y="40" width="115" height="24" fill="#fff"/>
<rect x="49.5" y="40.5" width="110" height="21" fill="#fff" stroke="#a8a8a8"/>
<rect x="50" y="41" width="20" height="20" fill="url(#gBtn)"/>
<rect x="70" y="41" width="1" height="20" fill="#b4b4b4"/>
<rect x="139" y="41" width="20" height="20" fill="url(#gBtn)"/>
<rect x="138" y="41" width="1" height="20" fill="#b4b4b4"/>
</g>
<polygon points="57,49 63,49 60,52.5" fill="#5060b0"/>
<polygon points="146,52 152,52 149,48.5" fill="#5060b0"/>
<text x="134.5" y="55" text-anchor="end" font-family='"Liberation Sans", sans-serif' font-size="11px" fill="#000">1.00</text>
<text x="7" y="56" font-family='"Liberation Sans", sans-serif' font-size="12px" fill="#fff" textLength="26" lengthAdjust="spacingAndGlyphs">SELL</text>
<text x="175" y="56" font-family='"Liberation Sans", sans-serif' font-size="12px" fill="#fff" textLength="24" lengthAdjust="spacingAndGlyphs">BUY</text>
<text x="15.5" y="95" font-family='"Liberation Sans", sans-serif' font-size="12px" font-weight="bold" fill="#fff" textLength="23" lengthAdjust="spacingAndGlyphs">1.36</text>
<text x="43.5" y="95" font-family='"Liberation Sans", sans-serif' font-size="32.5px" fill="#fff" textLength="34" lengthAdjust="spacingAndGlyphs">80</text>
<text x="82.5" y="79.5" font-family='"Liberation Sans", sans-serif' font-size="11px" font-weight="bold" fill="#fff">9</text>
<text x="126.0" y="95" font-family='"Liberation Sans", sans-serif' font-size="12px" font-weight="bold" fill="#fff" textLength="23" lengthAdjust="spacingAndGlyphs">1.36</text>
<text x="154.0" y="95" font-family='"Liberation Sans", sans-serif' font-size="32.5px" fill="#fff" textLength="34" lengthAdjust="spacingAndGlyphs">82</text>
<text x="193.0" y="79.5" font-family='"Liberation Sans", sans-serif' font-size="11px" font-weight="bold" fill="#fff">6</text>
<rect x="-3.5" y="-2.5" width="9" height="12" fill="#fff" stroke="#3a78c8"/>
<rect x="0" y="2" width="4" height="1" fill="#7aa0e0"/><rect x="0" y="5" width="4" height="1" fill="#7aa0e0"/>
<rect x="18.5" y="-2.5" width="8" height="11" fill="#fff" stroke="#a0a090"/>
<circle cx="26.5" cy="5" r="4.5" fill="#dfefff" stroke="#5b8fd0" stroke-width="1.3"/>
<line x1="30" y1="8.5" x2="35" y2="13" stroke="#c89a20" stroke-width="2"/>
<rect x="43" y="0" width="1" height="14" fill="#a0a0a0" shape-rendering="crispEdges"/><rect x="44" y="0" width="1" height="14" fill="#ffffff" shape-rendering="crispEdges"/>
<rect x="53.5" y="-2.5" width="10" height="11.5" fill="#fff" stroke="#808080"/>
<path d="M55,2h6M55,4.5h6" stroke="#909090"/>
<path d="M61,2h4v4h4v4h-4v4h-4v-4h-4v-4h4z" fill="#22c422" stroke="#108010" stroke-width="0.8"/>
<g fill="none" stroke="#1a1a1a" stroke-width="1.2">
<path transform="translate(72.0,-1)" d="M1,1h4 M3,0v8 M0,4h6 M1,6l-1,2 M5,6l1,2 M7,1h4 M8,1v7 M8,4h4 M10,4v5"/>
<path transform="translate(84.0,-1)" d="M0,1l2,1 M1,4h2v4 M5,1h6 M8,1v7l-2,-1"/>
<path transform="translate(96.0,-1)" d="M2,0h8v5h-8z M2,2.5h8 M6,0v9 M0,7h12"/>
</g>
<polygon points="120,6 127,-1 136,5 129,12" fill="#e0b030" stroke="#a07010"/>
<polygon points="121,8 129,13 135,8" fill="none" stroke="#c08a20"/>
<rect x="150" y="-1" width="10" height="6" fill="#fff" stroke="#3a78c8"/>
<path d="M149,11 a3,3 0 0 1 2,-5 a4,4 0 0 1 7,-1 a3,3 0 0 1 5,3 a2,2 0 0 1 0,3 z" fill="#e8eef8" stroke="#7090c0"/>
<path d="M178,10 a7,7 0 0 1 3,-11 M181,8 a4,4 0 0 1 2,-7" fill="none" stroke="#7090d0" stroke-width="1"/>
<path d="M184,11 a6,6 0 0 0 5,-9" fill="none" stroke="#60b060" stroke-width="2.5"/>
<circle cx="183.5" cy="3.5" r="1.8" fill="#3050c0"/><line x1="183.5" y1="4" x2="183.5" y2="11" stroke="#30a030" stroke-width="1.5"/>
<polygon points="203,2 218,2 216,9 209,12" fill="#f0d040" stroke="#b09020"/>
<ellipse cx="211" cy="1" rx="8" ry="3" fill="#60a0d8"/>
<circle cx="215.5" cy="8" r="4" fill="#e02020"/><rect x="214" y="6.5" width="3" height="3" fill="#fff"/>
<g fill="none" stroke="#1a1a1a" stroke-width="1.2">
<path transform="translate(225.0,-1)" d="M2,0h8v9h-8z M2,3h8 M2,6h8"/>
<path transform="translate(237.0,-1)" d="M0,1h5 M0,4h6 M2,4l-1,4h4 M7,0v3 M7,3h5v6 M9,3l-1,6"/>
<path transform="translate(249.0,-1)" d="M6,0v1 M0,2h12 M3,3l-2,2 M9,3l2,2 M4,5l6,4 M8,5l-6,4"/>
<path transform="translate(261.0,-1)" d="M2,0h7v4h-7z M2,2h7 M1,5h10l-1,4 M4,5l-3,4 M7,5l-3,4"/>
</g>
<rect x="279" y="0" width="1" height="14" fill="#a0a0a0" shape-rendering="crispEdges"/><rect x="280" y="0" width="1" height="14" fill="#ffffff" shape-rendering="crispEdges"/>
<rect x="283" y="1" width="3" height="1" fill="#b0b0b0" shape-rendering="crispEdges"/><rect x="283" y="3" width="3" height="1" fill="#b0b0b0" shape-rendering="crispEdges"/><rect x="283" y="5" width="3" height="1" fill="#b0b0b0" shape-rendering="crispEdges"/><rect x="283" y="7" width="3" height="1" fill="#b0b0b0" shape-rendering="crispEdges"/><rect x="283" y="9" width="3" height="1" fill="#b0b0b0" shape-rendering="crispEdges"/><rect x="283" y="11" width="3" height="1" fill="#b0b0b0" shape-rendering="crispEdges"/><rect x="283" y="13" width="3" height="1" fill="#b0b0b0" shape-rendering="crispEdges"/>
<path d="M296,0 v11 M294,10 h12" stroke="#404040" stroke-width="1" shape-rendering="crispEdges"/><polygon points="306,8 309,10 306,12" fill="#404040"/>
<path d="M299,7.5 h3 v-5 h3" fill="none" stroke="#20a020" stroke-width="1.5"/>
<rect x="317" y="0" width="1" height="14" fill="#a0a0a0" shape-rendering="crispEdges"/><rect x="318" y="0" width="1" height="14" fill="#ffffff" shape-rendering="crispEdges"/>
<rect x="318" y="0" width="24" height="14" fill="#e8e8e8"/>
<path d="M324,0 v11 M322,10 h12" stroke="#404040" stroke-width="1" shape-rendering="crispEdges"/><polygon points="334,8 337,10 334,12" fill="#404040"/>
<rect x="329.5" y="-1" width="4" height="7" fill="#22c022" stroke="#108010" stroke-width="0.8"/><line x1="331.5" y1="6" x2="331.5" y2="8" stroke="#108010"/>
<path d="M352,0 v11 M350,10 h12" stroke="#404040" stroke-width="1" shape-rendering="crispEdges"/><polygon points="362,8 365,10 362,12" fill="#404040"/>
<path d="M353,6 q5,-8 11,-1" fill="none" stroke="#20a020" stroke-width="1.2"/>
<rect x="374" y="0" width="1" height="14" fill="#a0a0a0" shape-rendering="crispEdges"/><rect x="375" y="0" width="1" height="14" fill="#ffffff" shape-rendering="crispEdges"/>
<circle cx="388.5" cy="3" r="5.5" fill="#e0f0ff" stroke="#4a88d0" stroke-width="1.3"/>
<line x1="392.5" y1="7" x2="398.0" y2="12" stroke="#c8a020" stroke-width="2.2"/>
<rect x="385.0" y="2.2" width="7" height="1.6" fill="#3a78c8"/>
<rect x="387.7" y="-0.5" width="1.6" height="7" fill="#3a78c8"/>
<circle cx="416.5" cy="3" r="5.5" fill="#e0f0ff" stroke="#4a88d0" stroke-width="1.3"/>
<line x1="420.5" y1="7" x2="426.0" y2="12" stroke="#c8a020" stroke-width="2.2"/>
<rect x="413.0" y="2.2" width="7" height="1.6" fill="#3a78c8"/>
<rect x="439" y="-1" width="7" height="6" fill="#30a030"/><rect x="448" y="-1" width="7" height="6" fill="#3a78c8"/>
<rect x="439" y="6" width="7" height="6" fill="#3a78c8"/><rect x="448" y="6" width="7" height="6" fill="#30a030"/>
<rect x="440" y="1" width="5" height="3" fill="#fff"/><rect x="449" y="1" width="5" height="3" fill="#fff"/><rect x="440" y="8" width="5" height="2" fill="#dde"/><rect x="449" y="8" width="5" height="2" fill="#ded"/>
<rect x="464" y="0" width="1" height="14" fill="#a0a0a0" shape-rendering="crispEdges"/><rect x="465" y="0" width="1" height="14" fill="#ffffff" shape-rendering="crispEdges"/>
<rect x="469" y="0" width="1" height="14" fill="#a0a0a0"/>
<rect x="471" y="0" width="23" height="14" fill="#e8e8e8"/>
<path d="M476,0 v11 M474,10 h12" stroke="#404040" stroke-width="1" shape-rendering="crispEdges"/><polygon points="486,8 489,10 486,12" fill="#404040"/>
<polygon points="482,0 486,3.5 482,7" fill="none" stroke="#20a020" stroke-width="1.2"/>
<rect x="497" y="0" width="1" height="14" fill="#a0a0a0" shape-rendering="crispEdges"/><rect x="498" y="0" width="1" height="14" fill="#ffffff" shape-rendering="crispEdges"/>
<rect x="499" y="0" width="23" height="14" fill="#e8e8e8"/>
<path d="M504,0 v11 M502,10 h12" stroke="#404040" stroke-width="1" shape-rendering="crispEdges"/><polygon points="514,8 517,10 514,12" fill="#404040"/>
<line x1="511.5" y1="-1" x2="511.5" y2="8" stroke="#3070c0"/><polygon points="513,3.5 517,1 517,6" fill="#e05010"/>
<rect x="526" y="0" width="1" height="14" fill="#a0a0a0" shape-rendering="crispEdges"/><rect x="527" y="0" width="1" height="14" fill="#ffffff" shape-rendering="crispEdges"/>
<rect x="536.5" y="-2.5" width="9" height="11" fill="#fff" stroke="#808080"/>
<path d="M544,1.5h4v4h4v4h-4v4h-4v-4h-4v-4h4z" fill="#22c422" stroke="#108010" stroke-width="0.8"/>
<polygon points="558.0,3 564.0,3 561.0,6.5" fill="#000"/>
<circle cx="582" cy="4" r="7.5" fill="#1a6ad0"/><circle cx="582" cy="4" r="5" fill="#f4f8ff"/><path d="M582,0 v4 h3" stroke="#555" fill="none"/>
<polygon points="597.0,3 603.0,3 600.0,6.5" fill="#000"/>
<rect x="613.5" y="-1.5" width="15" height="12" fill="#fff" stroke="#3a78c8"/><line x1="613" y1="5.5" x2="629" y2="5.5" stroke="#3a78c8"/>
<path d="M615,3 l3,-1 l3,1 l3,-1 l3,0" stroke="#c03030" fill="none"/><path d="M615,9 l3,-2 l3,1 l3,-2 l3,1" stroke="#30a030" fill="none"/>
<polygon points="635.0,3 641.0,3 638.0,6.5" fill="#000"/>
<rect x="647" y="0" width="1" height="14" fill="#a0a0a0" shape-rendering="crispEdges"/><rect x="648" y="0" width="1" height="14" fill="#ffffff" shape-rendering="crispEdges"/>
<rect x="651" y="1" width="3" height="1" fill="#b0b0b0" shape-rendering="crispEdges"/><rect x="651" y="3" width="3" height="1" fill="#b0b0b0" shape-rendering="crispEdges"/><rect x="651" y="5" width="3" height="1" fill="#b0b0b0" shape-rendering="crispEdges"/><rect x="651" y="7" width="3" height="1" fill="#b0b0b0" shape-rendering="crispEdges"/><rect x="651" y="9" width="3" height="1" fill="#b0b0b0" shape-rendering="crispEdges"/><rect x="651" y="11" width="3" height="1" fill="#b0b0b0" shape-rendering="crispEdges"/><rect x="651" y="13" width="3" height="1" fill="#b0b0b0" shape-rendering="crispEdges"/>
<rect x="657" y="0" width="1" height="14" fill="#a0a0a0" shape-rendering="crispEdges"/><rect x="658" y="0" width="1" height="14" fill="#ffffff" shape-rendering="crispEdges"/>
<rect x="659" y="0" width="23" height="14" fill="#e8e8e8"/>
<polygon points="665,0 665,9 667.5,7 670,11.5 672,10.5 669.5,6 673,6" fill="#404040"/>
<path d="M690,4.5 h15 M697.5,0 v12" stroke="#404040" stroke-width="1.1"/>
<rect x="714" y="0" width="1" height="14" fill="#a0a0a0" shape-rendering="crispEdges"/><rect x="715" y="0" width="1" height="14" fill="#ffffff" shape-rendering="crispEdges"/>
<line x1="731.5" y1="0" x2="731.5" y2="11" stroke="#404040" stroke-width="1.1"/>
<line x1="754" y1="4.5" x2="766" y2="4.5" stroke="#404040" stroke-width="1.1"/>
<line x1="782" y1="11" x2="793" y2="0" stroke="#404040" stroke-width="1.1"/>
<path d="M808,9 l8,-9 M811,11 l9,-10 M809,6 h9 M810,3 h9" stroke="#505050" stroke-width="1"/>
<text x="819" y="13" font-family='"Liberation Sans", sans-serif' font-size="6px" font-weight="bold" fill="#404040">E</text>
<path d="M837,0.5 h14 M837,4.5 h14 M837,8.5 h6" stroke="#505050" stroke-dasharray="1,1"/>
<text x="847" y="13" font-family='"Liberation Sans", sans-serif' font-size="6px" font-weight="bold" fill="#404040">F</text>
<text x="868" y="9" font-family='"Liberation Sans", sans-serif' font-size="11px" fill="#505050">A</text>
<rect x="894.5" y="-0.5" width="11" height="11" fill="none" stroke="#606060" stroke-dasharray="1,1"/><text x="896.5" y="9" font-family='"Liberation Sans", sans-serif' font-size="10px" font-weight="bold" fill="#505050">T</text>
<path d="M921,1 l4,-2 l2,3 z M923,4 l3,3 l5,-6 M928,8 l4,-2 l3,3 l-4,3 z" fill="#404040" stroke="#404040"/>
<polygon points="942.0,3 948.0,3 945.0,6.5" fill="#000"/>
<rect x="953" y="0" width="1" height="14" fill="#a0a0a0" shape-rendering="crispEdges"/><rect x="954" y="0" width="1" height="14" fill="#ffffff" shape-rendering="crispEdges"/>
<rect x="957" y="1" width="3" height="1" fill="#b0b0b0" shape-rendering="crispEdges"/><rect x="957" y="3" width="3" height="1" fill="#b0b0b0" shape-rendering="crispEdges"/><rect x="957" y="5" width="3" height="1" fill="#b0b0b0" shape-rendering="crispEdges"/><rect x="957" y="7" width="3" height="1" fill="#b0b0b0" shape-rendering="crispEdges"/><rect x="957" y="9" width="3" height="1" fill="#b0b0b0" shape-rendering="crispEdges"/><rect x="957" y="11" width="3" height="1" fill="#b0b0b0" shape-rendering="crispEdges"/><rect x="957" y="13" width="3" height="1" fill="#b0b0b0" shape-rendering="crispEdges"/>
<text x="968.0" y="8.5" font-family='"Liberation Sans", sans-serif' font-size="9.5px" fill="#404040" textLength="13.0" lengthAdjust="spacingAndGlyphs">M1</text>
<text x="996.5" y="8.5" font-family='"Liberation Sans", sans-serif' font-size="9.5px" fill="#404040" textLength="13.0" lengthAdjust="spacingAndGlyphs">M5</text>
<text x="1023.0" y="8.5" font-family='"Liberation Sans", sans-serif' font-size="9.5px" fill="#404040" textLength="17.5" lengthAdjust="spacingAndGlyphs">M15</text>
<text x="1050.5" y="8.5" font-family='"Liberation Sans", sans-serif' font-size="9.5px" fill="#404040" textLength="18.0" lengthAdjust="spacingAndGlyphs">M30</text>
<text x="1081.5" y="8.5" font-family='"Liberation Sans", sans-serif' font-size="9.5px" fill="#404040" textLength="11.5" lengthAdjust="spacingAndGlyphs">H1</text>
<text x="1108.5" y="8.5" font-family='"Liberation Sans", sans-serif' font-size="9.5px" fill="#404040" textLength="12.5" lengthAdjust="spacingAndGlyphs">H4</text>
<rect x="1131" y="0" width="1" height="14" fill="#a0a0a0" shape-rendering="crispEdges"/><rect x="1132" y="0" width="1" height="14" fill="#ffffff" shape-rendering="crispEdges"/>
<rect x="1132" y="0" width="24" height="14" fill="#e8e8e8"/>
<text x="1137.5" y="8.5" font-family='"Liberation Sans", sans-serif' font-size="9.5px" fill="#404040" textLength="11.5" lengthAdjust="spacingAndGlyphs">D1</text>
<text x="1164.5" y="8.5" font-family='"Liberation Sans", sans-serif' font-size="9.5px" fill="#404040" textLength="14.5" lengthAdjust="spacingAndGlyphs">W1</text>
<text x="1191.5" y="8.5" font-family='"Liberation Sans", sans-serif' font-size="9.5px" fill="#404040" textLength="15.0" lengthAdjust="spacingAndGlyphs">MN</text>
<rect x="1214" y="0" width="1" height="14" fill="#a0a0a0" shape-rendering="crispEdges"/><rect x="1215" y="0" width="1" height="14" fill="#ffffff" shape-rendering="crispEdges"/>
<circle cx="1684" cy="2" r="3.8" fill="#fff" stroke="#2a6ad0" stroke-width="1.3"/><line x1="1681" y1="5" x2="1677.5" y2="8.5" stroke="#2a6ad0" stroke-width="2"/>
<ellipse cx="1707" cy="6" rx="6" ry="4.5" fill="#e4e6f0" stroke="#a0a0a0"/><polygon points="1703,9 1704,13 1707,10" fill="#a0a0a0"/>
<circle cx="1715.5" cy="3.5" r="7.5" fill="#e03a1a"/><text x="1713.5" y="7" font-family='"Liberation Sans", sans-serif' font-size="10px" fill="#fff">1</text>
</svg>
</body></html>
